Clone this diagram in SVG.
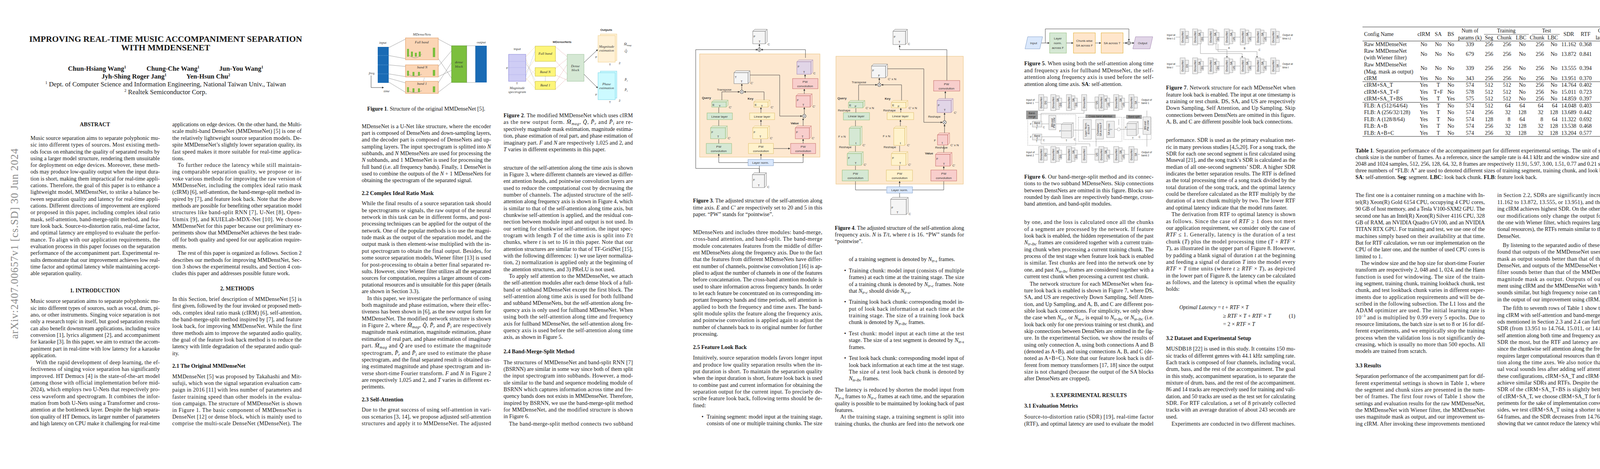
<svg xmlns="http://www.w3.org/2000/svg" width="4240" height="1200" viewBox="0 0 4240 1200">
<style>
text{font-family:"Liberation Serif","Times New Roman",serif;fill:#151515}
.b{font-size:14.2px}
.bd{font-weight:bold}
.ttl{font-size:22px;font-weight:bold}
.au{font-size:17px;font-weight:bold}
.af{font-size:17px}
.it{font-style:italic}
.sb{font-size:10px;font-style:italic}
.f{font-family:"Liberation Sans",Arial,sans-serif;font-size:8px;fill:#333}
.fs{font-family:"Liberation Sans",Arial,sans-serif;font-size:6.5px;fill:#333}
.fi{font-family:"Liberation Serif",serif;font-style:italic;font-size:9px;fill:#333}
.tb{font-size:14px}
.ln{fill:none;stroke:#444;stroke-width:1}
.lg{fill:none;stroke:#888;stroke-width:0.8}
.blk{fill:#eee;stroke:#888;stroke-width:0.7}
.gr{fill:#d5e8d4;stroke:#82b366;stroke-width:0.8}
.ye{fill:#fff2cc;stroke:#d6b656;stroke-width:0.8}
.rd{fill:#f8cecc;stroke:#b85450;stroke-width:0.8}
.pu{fill:#e1d5e7;stroke:#9673a6;stroke-width:0.8}
.wh{fill:#f5f5f5;stroke:#666;stroke-width:0.8}
.bl{fill:#dae8fc;stroke:#6c8ebf;stroke-width:0.8}
.or{fill:#ffe6cc;stroke:#d79b00;stroke-width:0.8}
.pan{fill:#fde8d0;stroke:#e8c07a;stroke-width:1}
.sd{opacity:0.75}
.dsh{fill:none;stroke:#777;stroke-width:0.8;stroke-dasharray:2,2}
.rule{stroke:#222;stroke-width:1.2}
</style>
<defs>
<marker id="ar" viewBox="0 0 6 6" refX="5" refY="3" markerWidth="5" markerHeight="5" orient="auto"><path d="M0,0 L6,3 L0,6 z" fill="#333"/></marker>
<g id="kD"><rect x="0" y="0" width="13" height="41" class="blk"/><text class="fs" text-anchor="middle" transform="translate(8.5,20.5) rotate(-90)">DenseNet</text></g>
<g id="kDS"><use href="#kD"/><rect x="13" y="6" width="9" height="29" class="blk"/><text class="fs" text-anchor="middle" transform="translate(19.5,20.5) rotate(-90)">DS</text></g>
<g id="kSADS"><use href="#kD"/><rect x="13" y="3" width="9" height="35" class="blk"/><rect x="20" y="9" width="8" height="23" class="blk"/><text class="fs" text-anchor="middle" transform="translate(19.5,14) rotate(-90)">SA</text><text class="fs" text-anchor="middle" transform="translate(26.5,25) rotate(-90)">DS</text></g>
<g id="kSAUS"><use href="#kD"/><rect x="13" y="3" width="9" height="35" class="blk"/><rect x="20" y="9" width="8" height="23" class="blk"/><text class="fs" text-anchor="middle" transform="translate(19.5,14) rotate(-90)">SA</text><text class="fs" text-anchor="middle" transform="translate(26.5,25) rotate(-90)">US</text></g>
<g id="kSA"><use href="#kD"/><rect x="13" y="6" width="9" height="29" class="blk"/><text class="fs" text-anchor="middle" transform="translate(19.5,20.5) rotate(-90)">SA</text></g>
<g id="kUS"><rect x="0" y="6" width="9" height="29" class="blk"/><text class="fs" text-anchor="middle" transform="translate(6.5,20.5) rotate(-90)">US</text></g>
</defs>
<rect width="4240" height="1200" fill="#fff"/>

<!-- arXiv sidebar -->
<text x="0" y="0" transform="translate(46,867) rotate(-90)" font-size="27" fill="#8a8a8a" style="fill:#8a8a8a" textLength="487" lengthAdjust="spacing">arXiv:2407.00657v1  [cs.SD]  30 Jun 2024</text>

<!-- PAGE 1 -->
<g id="title">
<text class="ttl" x="424" y="107" text-anchor="middle">IMPROVING REAL-TIME MUSIC ACCOMPANIMENT SEPARATION</text>
<text class="ttl" x="424" y="129" text-anchor="middle">WITH MMDENSENET</text>
<text class="au" x="174" y="181">Chun-Hsiang Wang<tspan font-size="10" dy="-6">1</tspan></text>
<text class="au" x="375" y="181">Chung-Che Wang<tspan font-size="10" dy="-6">1</tspan></text>
<text class="au" x="561" y="181">Jun-You Wang<tspan font-size="10" dy="-6">1</tspan></text>
<text class="au" x="260" y="201">Jyh-Shing Roger Jang<tspan font-size="10" dy="-6">1</tspan></text>
<text class="au" x="477" y="201">Yen-Hsun Chu<tspan font-size="10" dy="-6">2</tspan></text>
<text class="af" x="424" y="221" text-anchor="middle"><tspan font-size="10" dy="-6">1</tspan><tspan dy="6"> Dept. of Computer Science and Information Engineering, National Taiwan Univ., Taiwan</tspan></text>
<text class="af" x="424" y="241" text-anchor="middle"><tspan font-size="10" dy="-6">2</tspan><tspan dy="6"> Realtek Semiconductor Corp.</tspan></text>
</g>

<g id="p1c1" class="b">
<text class="b bd" x="243" y="323" text-anchor="middle">ABSTRACT</text>
<text class="b" x="78" y="358" textLength="331" lengthAdjust="spacing">Music source separation aims to separate polyphonic mu-</text>
<text class="b" x="78" y="375" textLength="331" lengthAdjust="spacing">sic into different types of sources.  Most existing meth-</text>
<text class="b" x="78" y="393" textLength="331" lengthAdjust="spacing">ods focus on enhancing the quality of separated results by</text>
<text class="b" x="78" y="410" textLength="331" lengthAdjust="spacing">using a larger model structure, rendering them unsuitable</text>
<text class="b" x="78" y="427" textLength="331" lengthAdjust="spacing">for deployment on edge devices.  Moreover, these meth-</text>
<text class="b" x="78" y="444" textLength="331" lengthAdjust="spacing">ods may produce low-quality output when the input dura-</text>
<text class="b" x="78" y="462" textLength="331" lengthAdjust="spacing">tion is short, making them impractical for real-time appli-</text>
<text class="b" x="78" y="479" textLength="331" lengthAdjust="spacing">cations.  Therefore, the goal of this paper is to enhance a</text>
<text class="b" x="78" y="496" textLength="331" lengthAdjust="spacing">lightweight model, MMDenstNet, to strike a balance be-</text>
<text class="b" x="78" y="514" textLength="331" lengthAdjust="spacing">tween separation quality and latency for real-time appli-</text>
<text class="b" x="78" y="531" textLength="331" lengthAdjust="spacing">cations. Different directions of improvement are explored</text>
<text class="b" x="78" y="548" textLength="331" lengthAdjust="spacing">or proposed in this paper, including complex ideal ratio</text>
<text class="b" x="78" y="566" textLength="331" lengthAdjust="spacing">mask, self-attention, band-merge-split method, and fea-</text>
<text class="b" x="78" y="583" textLength="331" lengthAdjust="spacing">ture look back. Source-to-distortion ratio, real-time factor,</text>
<text class="b" x="78" y="600" textLength="331" lengthAdjust="spacing">and optimal latency are employed to evaluate the perfor-</text>
<text class="b" x="78" y="618" textLength="331" lengthAdjust="spacing">mance.  To align with our application requirements, the</text>
<text class="b" x="78" y="635" textLength="331" lengthAdjust="spacing">evaluation process in this paper focuses on the separation</text>
<text class="b" x="78" y="652" textLength="331" lengthAdjust="spacing">performance of the accompaniment part. Experimental re-</text>
<text class="b" x="78" y="670" textLength="331" lengthAdjust="spacing">sults demonstrate that our improvement achieves low real-</text>
<text class="b" x="78" y="687" textLength="331" lengthAdjust="spacing">time factor and optimal latency while maintaining accept-</text>
<text class="b" x="78" y="704">able separation quality.</text>
<text class="b bd" x="243" y="748" text-anchor="middle">1.  INTRODUCTION</text>
<text class="b" x="78" y="775" textLength="331" lengthAdjust="spacing">Music source separation aims to separate polyphonic mu-</text>
<text class="b" x="78" y="793" textLength="331" lengthAdjust="spacing">sic into different types of sources, such as vocal, drum, pi-</text>
<text class="b" x="78" y="810" textLength="331" lengthAdjust="spacing">ano, or other instruments.  Singing voice separation is not</text>
<text class="b" x="78" y="827" textLength="331" lengthAdjust="spacing">only a research topic in itself, but good separation results</text>
<text class="b" x="78" y="845" textLength="331" lengthAdjust="spacing">can also benefit downstream applications, including voice</text>
<text class="b" x="78" y="862" textLength="331" lengthAdjust="spacing">conversion [1], lyrics alignment [2], and accompaniment</text>
<text class="b" x="78" y="879" textLength="331" lengthAdjust="spacing">for karaoke [3]. In this paper, we aim to extract the accom-</text>
<text class="b" x="78" y="897" textLength="331" lengthAdjust="spacing">paniment part in real-time with low latency for a karaoke</text>
<text class="b" x="78" y="914">application.</text>
<text class="b" x="92" y="932" textLength="317" lengthAdjust="spacing">With the rapid development of deep learning, the ef-</text>
<text class="b" x="78" y="949" textLength="331" lengthAdjust="spacing">fectiveness of singing voice separation has significantly</text>
<text class="b" x="78" y="967" textLength="331" lengthAdjust="spacing">improved.  HT Demucs [4] is the state-of-the-art model</text>
<text class="b" x="78" y="984" textLength="331" lengthAdjust="spacing">(among those with official implementation before mid-</text>
<text class="b" x="78" y="1001" textLength="331" lengthAdjust="spacing">2024), which employs two U-Nets that respectively pro-</text>
<text class="b" x="78" y="1019" textLength="331" lengthAdjust="spacing">cess waveform and spectrogram.  It combines the infor-</text>
<text class="b" x="78" y="1036" textLength="331" lengthAdjust="spacing">mation from both U-Nets using a Transformer and cross-</text>
<text class="b" x="78" y="1053" textLength="331" lengthAdjust="spacing">attention at the bottleneck layer. Despite the high separa-</text>
<text class="b" x="78" y="1071" textLength="331" lengthAdjust="spacing">tion quality of HT Demucs, its larger number of parameters</text>
<text class="b" x="78" y="1088" textLength="331" lengthAdjust="spacing">and high latency on CPU make it challenging for real-time</text>
</g>

<g id="p1c2">
<text class="b" x="441" y="323" textLength="331" lengthAdjust="spacing">applications on edge devices. On the other hand, the Multi-</text>
<text class="b" x="441" y="340" textLength="331" lengthAdjust="spacing">scale multi-band DenseNet (MMDenseNet) [5] is one of</text>
<text class="b" x="441" y="358" textLength="331" lengthAdjust="spacing">the relatively lightweight source separation models.  De-</text>
<text class="b" x="441" y="375" textLength="331" lengthAdjust="spacing">spite MMDenseNet’s slightly lower separation quality, its</text>
<text class="b" x="441" y="393" textLength="331" lengthAdjust="spacing">fast speed makes it more suitable for real-time applica-</text>
<text class="b" x="441" y="410">tions.</text>
<text class="b" x="455" y="427" textLength="317" lengthAdjust="spacing">To further reduce the latency while still maintain-</text>
<text class="b" x="441" y="444" textLength="331" lengthAdjust="spacing">ing comparable separation quality, we propose or in-</text>
<text class="b" x="441" y="462" textLength="331" lengthAdjust="spacing">voke various methods for improving the raw version of</text>
<text class="b" x="441" y="479" textLength="331" lengthAdjust="spacing">MMDenseNet, including the complex ideal ratio mask</text>
<text class="b" x="441" y="496" textLength="331" lengthAdjust="spacing">(cIRM) [6], self-attention, the band-merge-split method in-</text>
<text class="b" x="441" y="514" textLength="331" lengthAdjust="spacing">spired by [7], and feature look back.  Note that the above</text>
<text class="b" x="441" y="531" textLength="331" lengthAdjust="spacing">methods are possible for benefiting other separation model</text>
<text class="b" x="441" y="548" textLength="331" lengthAdjust="spacing">structures like band-split RNN [7], U-Net [8], Open-</text>
<text class="b" x="441" y="566" textLength="331" lengthAdjust="spacing">Unmix [9], and KUIELab-MDX-Net [10].  We choose</text>
<text class="b" x="441" y="583" textLength="331" lengthAdjust="spacing">MMDenseNet for this paper because our preliminary ex-</text>
<text class="b" x="441" y="600" textLength="331" lengthAdjust="spacing">periments show that MMDenseNet achieves the best trade-</text>
<text class="b" x="441" y="618" textLength="331" lengthAdjust="spacing">off for both quality and speed for our application require-</text>
<text class="b" x="441" y="635">ments.</text>
<text class="b" x="455" y="652" textLength="317" lengthAdjust="spacing">The rest of this paper is organized as follows. Section 2</text>
<text class="b" x="441" y="670" textLength="331" lengthAdjust="spacing">describes our methods for improving MMDenstNet, Sec-</text>
<text class="b" x="441" y="687" textLength="331" lengthAdjust="spacing">tion 3 shows the experimental results, and Section 4 con-</text>
<text class="b" x="441" y="704">cludes this paper and addresses possible future work.</text>
<text class="b bd" x="607" y="743" text-anchor="middle">2.  METHODS</text>
<text class="b" x="441" y="770" textLength="331" lengthAdjust="spacing">In this Section, brief description of MMDenseNet [5] is</text>
<text class="b" x="441" y="787" textLength="331" lengthAdjust="spacing">first given, followed by the four invoked or proposed meth-</text>
<text class="b" x="441" y="805" textLength="331" lengthAdjust="spacing">ods, complex ideal ratio mask (cIRM) [6], self-attention,</text>
<text class="b" x="441" y="822" textLength="331" lengthAdjust="spacing">the band-merge-split method inspired by [7], and feature</text>
<text class="b" x="441" y="839" textLength="331" lengthAdjust="spacing">look back, for improving MMDenseNet.  While the first</text>
<text class="b" x="441" y="857" textLength="331" lengthAdjust="spacing">three methods aim to improve the separated audio quality,</text>
<text class="b" x="441" y="874" textLength="331" lengthAdjust="spacing">the goal of the feature look back method is to reduce the</text>
<text class="b" x="441" y="891" textLength="331" lengthAdjust="spacing">latency with little degradation of the separated audio qual-</text>
<text class="b" x="441" y="909">ity.</text>
<text class="b bd" x="441" y="941">2.1  The Original MMDenseNet</text>
<text class="b" x="441" y="968" textLength="331" lengthAdjust="spacing">MMDenseNet [5] was proposed by Takahashi and Mit-</text>
<text class="b" x="441" y="985" textLength="331" lengthAdjust="spacing">sufuji, which won the signal separation evaluation cam-</text>
<text class="b" x="441" y="1002" textLength="331" lengthAdjust="spacing">paign in 2016 [11] with less number of parameters and</text>
<text class="b" x="441" y="1020" textLength="331" lengthAdjust="spacing">faster training speed than other models in the evalua-</text>
<text class="b" x="441" y="1037" textLength="331" lengthAdjust="spacing">tion campaign.  The structure of MMDenseNet is shown</text>
<text class="b" x="441" y="1054" textLength="331" lengthAdjust="spacing">in Figure 1.   The basic component of MMDenseNet is</text>
<text class="b" x="441" y="1071" textLength="331" lengthAdjust="spacing">DenseNet [12] or dense block, which is mainly used to</text>
<text class="b" x="441" y="1088" textLength="331" lengthAdjust="spacing">comprise the multi-scale DenseNet (MDenseNet).   The</text>
</g>

<!-- PAGE 2 : Figure 1 -->
<g id="fig1">
<text class="fi" x="980" y="112" text-anchor="middle">input</text>
<rect x="967" y="120" width="28" height="92" fill="#1a6bb5"/>
<path d="M967,142H995M967,166H995M967,189H995" stroke="#9cc7ef" stroke-dasharray="2,2" stroke-width="0.8"/>
<path d="M950,224V193M950,224H982" class="ln" marker-end="url(#ar)"/>
<text class="fi" x="944" y="190">freq.</text>
<text class="fi" x="982" y="236">time</text>
<text class="fi" x="1080" y="91" text-anchor="middle">MDenseNets</text>
<path d="M995,122L1038,100M995,142L1038,150M995,166L1038,170M995,189L1038,196M995,200L1038,212M995,210L1038,236" class="lg" stroke="#e8a0a0"/>
<rect x="1038" y="97" width="84" height="56" fill="#fbd5b5" stroke="#e0955a"/>
<rect x="1038" y="166" width="84" height="31" fill="#fbd5b5" stroke="#e0955a"/>
<rect x="1038" y="208" width="84" height="31" fill="#fbd5b5" stroke="#e0955a"/>
<text class="fi" x="1062" y="111">Full band</text>
<text class="fi" x="1068" y="175">band N</text>
<text class="fi" x="1068" y="217">band 1</text>
<text class="fi" x="1080" y="206">⋮</text>
<g fill="#7cbf3e"><rect x="1042" y="125" width="5" height="20"/><rect x="1052" y="132" width="5" height="13"/><rect x="1062" y="135" width="5" height="10"/><rect x="1072" y="132" width="5" height="13"/><rect x="1108" y="122" width="6" height="24"/>
<rect x="1042" y="181" width="5" height="13"/><rect x="1056" y="184" width="5" height="10"/><rect x="1070" y="184" width="5" height="10"/><rect x="1108" y="179" width="6" height="15"/>
<rect x="1042" y="223" width="5" height="13"/><rect x="1056" y="226" width="5" height="10"/><rect x="1070" y="226" width="5" height="10"/><rect x="1108" y="221" width="6" height="15"/></g>
<path d="M1044,138Q1062,158 1080,138M1044,190Q1062,200 1080,190M1044,232Q1062,242 1080,232" class="lg"/>
<path d="M1122,100L1156,118M1122,150L1156,200M1122,170L1156,130M1122,196L1156,180M1122,212L1156,160M1122,236L1156,210" class="lg" stroke="#c9a0c0"/>
<rect x="1156" y="117" width="39" height="94" fill="#7cbf3e" stroke="#5a9a2a"/>
<text class="fi" x="1175" y="162" text-anchor="middle">dense</text>
<text class="fi" x="1175" y="173" text-anchor="middle">block</text>
<rect x="1195" y="117" width="22" height="94" fill="#fff" stroke="#555" stroke-width="0.5"/>
<rect x="1217" y="117" width="29" height="94" fill="#1a6bb5"/>
<text class="fi" x="1232" y="111" text-anchor="middle">output</text>
<text class="b" x="1091" y="283" text-anchor="middle"><tspan font-weight="bold">Figure 1</tspan>. Structure of the original MMDenseNet [5].</text>
</g>

<g id="p2c1">
<text class="b" x="926" y="328" textLength="331" lengthAdjust="spacing">MDenseNet is a U-Net like structure, where the encoder</text>
<text class="b" x="926" y="345" textLength="331" lengthAdjust="spacing">part is composed of DenseNets and down-sampling layers,</text>
<text class="b" x="926" y="362" textLength="331" lengthAdjust="spacing">and the decoder part is composed of DenseNets and up-</text>
<text class="b" x="926" y="380" textLength="331" lengthAdjust="spacing">sampling layers. The input spectrogram is splitted into <tspan class="it">N</tspan></text>
<text class="b" x="926" y="397" textLength="331" lengthAdjust="spacing">subbands, and <tspan class="it">N</tspan> MDenseNets are used for processing the</text>
<text class="b" x="926" y="414" textLength="331" lengthAdjust="spacing"><tspan class="it">N</tspan> subbands, and 1 MDenseNet is used for processing the</text>
<text class="b" x="926" y="432" textLength="331" lengthAdjust="spacing">full band (i.e. all frequency bands). Finally, 1 DenseNet is</text>
<text class="b" x="926" y="449" textLength="331" lengthAdjust="spacing">used to combine the outputs of the <tspan class="it">N</tspan> + 1 MDenseNets for</text>
<text class="b" x="926" y="466">obtaining the spectrogram of the separated signal.</text>
<text class="b bd" x="926" y="499">2.2  Complex Ideal Ratio Mask</text>
<text class="b" x="926" y="525" textLength="331" lengthAdjust="spacing">While the final results of a source separation task should</text>
<text class="b" x="926" y="543" textLength="331" lengthAdjust="spacing">be spectrograms or signals, the raw output of the neural</text>
<text class="b" x="926" y="560" textLength="331" lengthAdjust="spacing">network in this task can be in different forms, and post-</text>
<text class="b" x="926" y="577" textLength="331" lengthAdjust="spacing">processing techniques can be applied for the output of the</text>
<text class="b" x="926" y="595" textLength="331" lengthAdjust="spacing">network. One of the popular methods is to use the magni-</text>
<text class="b" x="926" y="612" textLength="331" lengthAdjust="spacing">tude mask as the output of the separation model, and the</text>
<text class="b" x="926" y="629" textLength="331" lengthAdjust="spacing">output mask is then element-wise multiplied with the in-</text>
<text class="b" x="926" y="647" textLength="331" lengthAdjust="spacing">put spectrogram to obtain the final output.  Besides, for</text>
<text class="b" x="926" y="664" textLength="331" lengthAdjust="spacing">some source separation models, Wiener filter [13] is used</text>
<text class="b" x="926" y="682" textLength="331" lengthAdjust="spacing">for post-processing to obtain a better final separated re-</text>
<text class="b" x="926" y="699" textLength="331" lengthAdjust="spacing">sults. However, since Wiener filter utilizes all the separated</text>
<text class="b" x="926" y="716" textLength="331" lengthAdjust="spacing">sources for computation, requires a larger amount of com-</text>
<text class="b" x="926" y="733" textLength="331" lengthAdjust="spacing">putational resources and is unsuitable for this paper (details</text>
<text class="b" x="926" y="750">are shown in Section 3.3).</text>
<text class="b" x="940" y="768" textLength="317" lengthAdjust="spacing">In this paper, we investigate the performance of using</text>
<text class="b" x="926" y="785" textLength="331" lengthAdjust="spacing">both magnitude and phase estimation, where their effec-</text>
<text class="b" x="926" y="802" textLength="331" lengthAdjust="spacing">tiveness has been shown in [6], as the new output form for</text>
<text class="b" x="926" y="820" textLength="331" lengthAdjust="spacing">MMDenseNet.  The modified network structure is shown</text>
<text class="b" x="926" y="837" textLength="331" lengthAdjust="spacing">in Figure 2, where <tspan class="it">M̂</tspan><tspan class="sb" dy="3">mag</tspan><tspan dy="-3">, </tspan><tspan class="it">Q̂</tspan>, <tspan class="it">P̂</tspan><tspan class="sb" dy="3">r</tspan><tspan dy="-3"> and </tspan><tspan class="it">P̂</tspan><tspan class="sb" dy="3">i</tspan><tspan dy="-3"> are respectively</tspan></text>
<text class="b" x="926" y="854" textLength="331" lengthAdjust="spacing">magnitude mask estimation, magnitude estimation, phase</text>
<text class="b" x="926" y="872" textLength="331" lengthAdjust="spacing">estimation of real part, and phase estimation of imaginary</text>
<text class="b" x="926" y="889" textLength="331" lengthAdjust="spacing">part.  <tspan class="it">M̂</tspan><tspan class="sb" dy="3">mag</tspan><tspan dy="-3"> and </tspan><tspan class="it">Q̂</tspan> are used to estimate the magnitude</text>
<text class="b" x="926" y="908" textLength="331" lengthAdjust="spacing">spectrogram, <tspan class="it">P̂</tspan><tspan class="sb" dy="3">r</tspan><tspan dy="-3"> and </tspan><tspan class="it">P̂</tspan><tspan class="sb" dy="3">i</tspan><tspan dy="-3"> are used to estimate the phase</tspan></text>
<text class="b" x="926" y="925" textLength="331" lengthAdjust="spacing">spectrogram, and the final separated result is obtained us-</text>
<text class="b" x="926" y="942" textLength="331" lengthAdjust="spacing">ing estimated magnitude and phase spectrogram and in-</text>
<text class="b" x="926" y="960" textLength="331" lengthAdjust="spacing">verse short-time Fourier transform.  <tspan class="it">F</tspan> and <tspan class="it">N</tspan> in Figure 2</text>
<text class="b" x="926" y="977" textLength="331" lengthAdjust="spacing">are respectively 1,025 and 2, and <tspan class="it">T</tspan> varies in different ex-</text>
<text class="b" x="926" y="994">periments.</text>
<text class="b bd" x="926" y="1027">2.3  Self-Attention</text>
<text class="b" x="926" y="1053" textLength="331" lengthAdjust="spacing">Due to the great success of using self-attention in vari-</text>
<text class="b" x="926" y="1071" textLength="331" lengthAdjust="spacing">ous scenarios [3, 14], we propose adjusted self-attention</text>
<text class="b" x="926" y="1088" textLength="331" lengthAdjust="spacing">structures and apply it to MMDenseNet.  The adjusted</text>
</g>

<!-- Figure 2 -->
<g id="fig2">
<text class="f" x="1552" y="79" text-anchor="middle" font-weight="bold">Outputs</text>
<text class="f" x="1439" y="110" text-anchor="middle" font-weight="bold" font-size="7">MDenseNets</text>
<text class="f" x="1324" y="128" text-anchor="middle">Input</text>
<rect x="1302" y="139" width="44" height="69" fill="#cfcdf5" stroke="#8a86d8"/>
<path d="M1302,157H1346M1302,173H1346M1302,191H1346" stroke="#8a86d8" stroke-dasharray="1.5,1.5" stroke-width="0.6"/>
<text class="f" x="1296" y="177">F</text>
<text class="f" x="1321" y="216">T</text>
<text class="fi" x="1324" y="228" text-anchor="middle" font-size="7">Magnitude</text>
<text class="fi" x="1324" y="238" text-anchor="middle" font-size="7">spectrogram</text>
<path d="M1346,145L1370,120M1346,165L1370,190M1346,185L1370,150M1346,200L1370,225M1346,150L1370,215M1346,205L1370,178" fill="none" stroke-dasharray="2,2" stroke-width="0.7" stroke="#d9a441"/>
<path d="M1346,160L1370,205M1346,195L1370,130" fill="none" stroke-dasharray="2,2" stroke-width="0.7" stroke="#5b7fd0"/>
<rect x="1370" y="118" width="52" height="39" fill="#fdf57a" stroke="#c8c040"/>
<rect x="1370" y="173" width="52" height="22" fill="#fdf57a" stroke="#c8c040"/>
<rect x="1370" y="208" width="52" height="21" fill="#fdf57a" stroke="#c8c040"/>
<path d="M1396,195V208" stroke="#666" stroke-dasharray="1.5,1.5" stroke-width="0.7"/>
<text class="fi" x="1396" y="140" text-anchor="middle" font-size="8">Full band</text>
<text class="fi" x="1396" y="187" text-anchor="middle" font-size="8">Band N</text>
<text class="fi" x="1396" y="221" text-anchor="middle" font-size="8">Band 1</text>
<path d="M1422,120L1452,145M1422,155L1452,190M1422,175L1452,150M1422,192L1452,205M1422,212L1452,165M1422,228L1452,200" fill="none" stroke-dasharray="2,2" stroke-width="0.7" stroke="#c85a5a"/>
<rect x="1452" y="139" width="43" height="69" fill="#d5e8d4" stroke="#9fc39d"/>
<text class="fi" x="1473" y="172" text-anchor="middle" font-size="8">Dense</text>
<text class="fi" x="1473" y="182" text-anchor="middle" font-size="8">block</text>
<path d="M1495,160L1530,127" class="ln" marker-end="url(#ar)"/>
<path d="M1495,190L1530,225" class="ln" marker-end="url(#ar)"/>
<rect x="1537" y="87" width="42" height="68" fill="#fff1d6" stroke="#f0cf8c"/>
<rect x="1531" y="91" width="44" height="68" fill="#fff1d6" stroke="#f0cf8c"/>
<text class="fi" x="1553" y="122" text-anchor="middle" font-size="7">Magnitude</text>
<text class="fi" x="1553" y="132" text-anchor="middle" font-size="7">estimation</text>
<text class="f" x="1524" y="149">F</text><text class="f" x="1559" y="168">T</text><text class="f" x="1584" y="164">2</text>
<text class="fi" x="1597" y="116" font-size="10">M̂<tspan font-size="7" dy="2">mag</tspan></text>
<text class="fi" x="1599" y="134" font-size="10">Q̂</text>
<rect x="1537" y="182" width="42" height="69" fill="#ccfaff" stroke="#7ad6e8"/>
<rect x="1531" y="186" width="44" height="69" fill="#ccfaff" stroke="#7ad6e8"/>
<text class="fi" x="1553" y="218" text-anchor="middle" font-size="7">Phase</text>
<text class="fi" x="1553" y="228" text-anchor="middle" font-size="7">estimation</text>
<text class="f" x="1524" y="245">F</text><text class="f" x="1559" y="264">T</text><text class="f" x="1584" y="260">2</text>
<text class="fi" x="1599" y="207" font-size="10">P̂<tspan font-size="7" dy="2">r</tspan></text>
<text class="fi" x="1599" y="233" font-size="10">P̂<tspan font-size="7" dy="2">i</tspan></text>
</g>

<g id="p2c2">
<text class="b" x="1289" y="300" textLength="331" lengthAdjust="spacing"><tspan font-weight="bold">Figure 2</tspan>.  The modified MMDenseNet which uses cIRM</text>
<text class="b" x="1289" y="317" textLength="331" lengthAdjust="spacing">as the new output form.  <tspan class="it">M̂</tspan><tspan class="sb" dy="3">mag</tspan><tspan dy="-3">, </tspan><tspan class="it">Q̂</tspan>, <tspan class="it">P̂</tspan><tspan class="sb" dy="3">r</tspan><tspan dy="-3"> and </tspan><tspan class="it">P̂</tspan><tspan class="sb" dy="3">i</tspan><tspan dy="-3"> are re-</tspan></text>
<text class="b" x="1289" y="335" textLength="331" lengthAdjust="spacing">spectively magnitude mask estimation, magnitude estima-</text>
<text class="b" x="1289" y="352" textLength="331" lengthAdjust="spacing">tion, phase estimation of real part, and phase estimation of</text>
<text class="b" x="1289" y="370" textLength="331" lengthAdjust="spacing">imaginary part. <tspan class="it">F</tspan> and <tspan class="it">N</tspan> are respectively 1,025 and 2, and</text>
<text class="b" x="1289" y="387"><tspan class="it">T</tspan> varies in different experiments in this paper.</text>
<text class="b" x="1289" y="434" textLength="331" lengthAdjust="spacing">structure of the self-attention along the time axis is shown</text>
<text class="b" x="1289" y="451" textLength="331" lengthAdjust="spacing">in Figure 3, where different channels are viewed as differ-</text>
<text class="b" x="1289" y="468" textLength="331" lengthAdjust="spacing">ent attention heads, and pointwise convolution layers are</text>
<text class="b" x="1289" y="486" textLength="331" lengthAdjust="spacing">used to reduce the computational cost by decreasing the</text>
<text class="b" x="1289" y="503" textLength="331" lengthAdjust="spacing">number of channels.  The adjusted structure of the self-</text>
<text class="b" x="1289" y="520" textLength="331" lengthAdjust="spacing">attention along frequency axis is shown in Figure 4, which</text>
<text class="b" x="1289" y="538" textLength="331" lengthAdjust="spacing">is similar to that of the self-attention along time axis, but</text>
<text class="b" x="1289" y="555" textLength="331" lengthAdjust="spacing">chunkwise self-attention is applied, and the residual con-</text>
<text class="b" x="1289" y="572" textLength="331" lengthAdjust="spacing">nection between module input and output is not used.  In</text>
<text class="b" x="1289" y="590" textLength="331" lengthAdjust="spacing">our setting for chunkwise self-attention, the input spec-</text>
<text class="b" x="1289" y="607" textLength="331" lengthAdjust="spacing">trogram with length <tspan class="it">T</tspan> of the time axis is split into <tspan class="it">T/t</tspan></text>
<text class="b" x="1289" y="624" textLength="331" lengthAdjust="spacing">chunks, where <tspan class="it">t</tspan> is set to 16 in this paper.  Note that our</text>
<text class="b" x="1289" y="642" textLength="331" lengthAdjust="spacing">attention structures are similar to that of TF-GridNet [15],</text>
<text class="b" x="1289" y="659" textLength="331" lengthAdjust="spacing">with the following differences: 1) we use layer normaliza-</text>
<text class="b" x="1289" y="676" textLength="331" lengthAdjust="spacing">tion, 2) normalization is applied only at the beginning of</text>
<text class="b" x="1289" y="694">the attention structures, and 3) PReLU is not used.</text>
<text class="b" x="1303" y="711" textLength="317" lengthAdjust="spacing">To apply self attention to the MMDenseNet, we attach</text>
<text class="b" x="1289" y="728" textLength="331" lengthAdjust="spacing">the self-attention modules after each dense block of a full-</text>
<text class="b" x="1289" y="746" textLength="331" lengthAdjust="spacing">band or subband MDenseNet except the first block.  The</text>
<text class="b" x="1289" y="763" textLength="331" lengthAdjust="spacing">self-attention along time axis is used for both fullband</text>
<text class="b" x="1289" y="780" textLength="331" lengthAdjust="spacing">and subband MDenseNets, but the self-attention along fre-</text>
<text class="b" x="1289" y="798" textLength="331" lengthAdjust="spacing">quency axis is only used for fullband MDenseNet.  When</text>
<text class="b" x="1289" y="815" textLength="331" lengthAdjust="spacing">using both the self-attention along time and frequency</text>
<text class="b" x="1289" y="833" textLength="331" lengthAdjust="spacing">axis for fullband MDenseNet, the self-attention along fre-</text>
<text class="b" x="1289" y="850" textLength="331" lengthAdjust="spacing">quency axis is used before the self-attention along time</text>
<text class="b" x="1289" y="867">axis, as shown in Figure 5.</text>
<text class="b bd" x="1289" y="904">2.4  Band-Merge-Split Method</text>
<text class="b" x="1289" y="932" textLength="331" lengthAdjust="spacing">The structures of MMDenseNet and band-split RNN [7]</text>
<text class="b" x="1289" y="949" textLength="331" lengthAdjust="spacing">(BSRNN) are similar in some way since both of them split</text>
<text class="b" x="1289" y="966" textLength="331" lengthAdjust="spacing">the input spectrogram into subbands.  However, a mod-</text>
<text class="b" x="1289" y="984" textLength="331" lengthAdjust="spacing">ule similar to the band and sequence modeling module of</text>
<text class="b" x="1289" y="1001" textLength="331" lengthAdjust="spacing">BSRNN which captures information across time and fre-</text>
<text class="b" x="1289" y="1018" textLength="331" lengthAdjust="spacing">quency bands does not exists in MMDenseNet. Therefore,</text>
<text class="b" x="1289" y="1036" textLength="331" lengthAdjust="spacing">inspired by BSRNN, we use the band-merge-split method</text>
<text class="b" x="1289" y="1053" textLength="331" lengthAdjust="spacing">for MMDenseNet, and the modified structure is shown</text>
<text class="b" x="1289" y="1070">in Figure 6.</text>
<text class="b" x="1303" y="1089" textLength="317" lengthAdjust="spacing">The band-merge-split method connects two subband</text>
</g>

<!-- PAGE 3 : Figure 3 -->
<g id="fig3">
<rect x="1791" y="138" width="308" height="264" class="pan"/>
<path d="M1944,431V441" class="ln"/>
<path d="M1944,431H1781V127H1939" class="ln" marker-end="url(#ar)"/>
<path d="M2062,148V127H1949" class="ln" marker-end="url(#ar)"/>
<circle cx="1944" cy="127" r="4.5" fill="#fff" stroke="#333"/><path d="M1939.5,127H1948.5M1944,122.5V131.5" stroke="#333" stroke-width="0.8"/>
<path d="M1944,122V113" class="ln" marker-end="url(#ar)"/>
<g id="f3out"><polygon points="1927,80 1932,75 1964,75 1959,80" class="wh"/><polygon points="1959,80 1964,75 1964,107 1959,112" class="wh"/><rect x="1927" y="80" width="32" height="32" class="wh"/><text class="f" x="1929" y="96">F</text><text class="f" x="1942" y="109">T</text><text class="f" x="1965" y="116">C</text></g>
<g id="f3in"><polygon points="1926,447 1931,442 1962,442 1957,447" class="wh"/><polygon points="1957,447 1962,442 1962,475 1957,480" class="wh"/><rect x="1926" y="447" width="31" height="33" class="wh"/><text class="f" x="1928" y="463">F</text><text class="f" x="1940" y="477">T</text><text class="f" x="1964" y="481">C</text></g>
<path d="M1944,442V424" class="ln"/>
<path d="M1915,416H1840V394" class="ln" marker-end="url(#ar)"/>
<path d="M1980,416H2056V394" class="ln" marker-end="url(#ar)"/>
<path d="M1948,408V394" class="ln" marker-end="url(#ar)"/>
<g id="f3ln"><rect x="1915" y="408" width="65" height="16" class="bl"/><text class="f" x="1947" y="419" text-anchor="middle">Layer norm.</text></g>
<g id="f3pwq"><rect x="1808" y="367" width="65" height="26" class="gr"/><text class="f" x="1840" y="378" text-anchor="middle">PW</text><text class="f" x="1840" y="389" text-anchor="middle">convolution</text></g>
<g id="f3pwk"><rect x="1916" y="367" width="64" height="26" class="ye"/><text class="f" x="1948" y="378" text-anchor="middle">PW</text><text class="f" x="1948" y="389" text-anchor="middle">convolution</text></g>
<g id="f3pwv"><rect x="2024" y="367" width="64" height="26" class="rd"/><text class="f" x="2056" y="378" text-anchor="middle">PW</text><text class="f" x="2056" y="389" text-anchor="middle">convolution</text></g>
<path d="M1980,380H2022" class="ln" marker-end="url(#ar)"/>
<path d="M1840,367V356M1948,367V356M2056,367V356" class="ln" marker-end="url(#ar)"/>
<g id="f3cq"><polygon points="1819,327 1824,322 1862,322 1857,327" class="gr sd"/><polygon points="1857,327 1862,322 1862,350 1857,355" class="gr sd"/><rect x="1819" y="327" width="38" height="28" class="gr"/><text class="f" x="1821" y="341">F</text><text class="f" x="1836" y="352">T</text><text class="f" x="1863" y="356">C'</text></g>
<g id="f3ck"><polygon points="1927,327 1932,322 1970,322 1965,327" class="ye sd"/><polygon points="1965,327 1970,322 1970,350 1965,355" class="ye sd"/><rect x="1927" y="327" width="38" height="28" class="ye"/><text class="f" x="1929" y="341">F</text><text class="f" x="1944" y="352">T</text><text class="f" x="1971" y="356">C'</text></g>
<g id="f3cv"><polygon points="2036,327 2041,322 2077,322 2072,327" class="rd sd"/><polygon points="2072,327 2077,322 2077,350 2072,355" class="rd sd"/><rect x="2036" y="327" width="36" height="28" class="rd"/><text class="f" x="2038" y="341">F</text><text class="f" x="2052" y="352">T</text><text class="f" x="2078" y="356">C'</text></g>
<text class="f" x="2024" y="318" font-weight="bold">Value</text>
<path d="M1840,322V307M1948,322V307" class="ln" marker-end="url(#ar)"/>
<g id="f3llq"><rect x="1810" y="289" width="65" height="17" class="gr"/><text class="f" x="1842" y="301" text-anchor="middle">Linear layer</text></g>
<g id="f3llk"><rect x="1919" y="289" width="64" height="17" class="ye"/><text class="f" x="1951" y="301" text-anchor="middle">Linear layer</text></g>
<path d="M1840,289V275M1948,289V275" class="ln" marker-end="url(#ar)"/>
<g id="f3q"><polygon points="1822,261 1827,256 1864,256 1859,261" class="gr sd"/><polygon points="1859,261 1864,256 1864,269 1859,274" class="gr sd"/><rect x="1822" y="261" width="37" height="13" class="gr"/><text class="f" x="1824" y="271">E</text><text class="f" x="1840" y="274">T</text><text class="f" x="1866" y="277">C'</text></g>
<g id="f3k"><polygon points="1930,261 1935,256 1971,256 1966,261" class="ye sd"/><polygon points="1966,261 1971,256 1971,269 1966,274" class="ye sd"/><rect x="1930" y="261" width="36" height="13" class="ye"/><text class="f" x="1932" y="271">E</text><text class="f" x="1948" y="274">T</text><text class="f" x="1973" y="277">C'</text></g>
<text class="f" x="1797" y="253" font-weight="bold">Query</text>
<text class="f" x="1914" y="255" font-weight="bold">Key</text>
<path d="M1848,256V235H1893" class="ln" marker-end="url(#ar)"/>
<path d="M1956,256V235H1905" class="ln" marker-end="url(#ar)"/>
<text class="f" x="1854" y="232" text-anchor="middle">Transpose</text>
<circle cx="1899" cy="235" r="4.5" fill="#fff" stroke="#333"/><path d="M1896,232L1902,238M1902,232L1896,238" stroke="#333" stroke-width="0.8"/>
<path d="M1899,230V215" class="ln" marker-end="url(#ar)"/>
<g id="f3tt"><polygon points="1879,186 1884,181 1920,181 1915,186" class="wh"/><polygon points="1915,186 1920,181 1920,209 1915,214" class="wh"/><rect x="1879" y="186" width="36" height="28" class="wh"/><text class="f" x="1881" y="200">T</text><text class="f" x="1896" y="211">T</text><text class="f" x="1921" y="215">C'</text></g>
<path d="M1920,192H1996V297H2053" class="ln" marker-end="url(#ar)"/>
<circle cx="2059" cy="297" r="4.5" fill="#fff" stroke="#333"/><path d="M2056,294L2062,300M2062,294L2056,300" stroke="#333" stroke-width="0.8"/>
<path d="M2056,322V303" class="ln" marker-end="url(#ar)"/>
<path d="M2059,292V275" class="ln" marker-end="url(#ar)"/>
<g id="f3cr"><polygon points="2038,245 2043,240 2079,240 2074,245" class="rd sd"/><polygon points="2074,245 2079,240 2079,269 2074,274" class="rd sd"/><rect x="2038" y="245" width="36" height="29" class="rd"/><text class="f" x="2040" y="259">F</text><text class="f" x="2054" y="271">T</text><text class="f" x="2080" y="275">C'</text></g>
<path d="M2059,240V228" class="ln" marker-end="url(#ar)"/>
<g id="f3pwo"><rect x="2029" y="201" width="65" height="26" class="rd"/><text class="f" x="2061" y="212" text-anchor="middle">PW</text><text class="f" x="2061" y="223" text-anchor="middle">convolution</text></g>
<path d="M2061,201V191" class="ln" marker-end="url(#ar)"/>
<g id="f3p"><polygon points="2040,158 2045,153 2081,153 2076,158" class="pu sd"/><polygon points="2076,158 2081,153 2081,185 2076,190" class="pu sd"/><rect x="2040" y="158" width="36" height="32" class="pu"/><text class="f" x="2042" y="173">F</text><text class="f" x="2056" y="187">T</text><text class="f" x="2082" y="190">C</text></g>
</g>

<g id="p3c1">
<text class="b" x="1774" y="518" textLength="331" lengthAdjust="spacing"><tspan font-weight="bold">Figure 3</tspan>. The adjusted structure of the self-attention along</text>
<text class="b" x="1774" y="536" textLength="331" lengthAdjust="spacing">time axis. <tspan class="it">E</tspan> and <tspan class="it">C′</tspan> are respectively set to 20 and 5 in this</text>
<text class="b" x="1774" y="553">paper. “PW” stands for “pointwise”.</text>
<text class="b" x="1774" y="599" textLength="331" lengthAdjust="spacing">MDenseNets and includes three modules:  band-merge,</text>
<text class="b" x="1774" y="616" textLength="331" lengthAdjust="spacing">cross-band attention, and band-split.   The band-merge</text>
<text class="b" x="1774" y="634" textLength="331" lengthAdjust="spacing">module concatenates features from the middle of differ-</text>
<text class="b" x="1774" y="651" textLength="331" lengthAdjust="spacing">ent MDenseNets along the frequency axis. Due to the fact</text>
<text class="b" x="1774" y="668" textLength="331" lengthAdjust="spacing">that the features from different MDenseNets have differ-</text>
<text class="b" x="1774" y="686" textLength="331" lengthAdjust="spacing">ent number of channels, pointwise convolution [16] is ap-</text>
<text class="b" x="1774" y="703" textLength="331" lengthAdjust="spacing">plied to adjust the number of channels in one of the features</text>
<text class="b" x="1774" y="720" textLength="331" lengthAdjust="spacing">before concatenation.  The cross-band attention module is</text>
<text class="b" x="1774" y="738" textLength="331" lengthAdjust="spacing">used to share information across frequency bands. In order</text>
<text class="b" x="1774" y="755" textLength="331" lengthAdjust="spacing">to let each feature be concentrated on its corresponding im-</text>
<text class="b" x="1774" y="772" textLength="331" lengthAdjust="spacing">portant frequency bands and time periods, self attention is</text>
<text class="b" x="1774" y="790" textLength="331" lengthAdjust="spacing">applied to both the frequency and time axes.  The band-</text>
<text class="b" x="1774" y="807" textLength="331" lengthAdjust="spacing">split module splits the feature along the frequency axis,</text>
<text class="b" x="1774" y="824" textLength="331" lengthAdjust="spacing">and pointwise convolution is applied again to adjust the</text>
<text class="b" x="1774" y="842" textLength="331" lengthAdjust="spacing">number of channels back to its original number for further</text>
<text class="b" x="1774" y="859">processing.</text>
<text class="b bd" x="1774" y="893">2.5  Feature Look Back</text>
<text class="b" x="1774" y="920" textLength="331" lengthAdjust="spacing">Intuitively, source separation models favors longer input</text>
<text class="b" x="1774" y="938" textLength="331" lengthAdjust="spacing">and produce low quality separation results when the in-</text>
<text class="b" x="1774" y="955" textLength="331" lengthAdjust="spacing">put duration is short.  To maintain the separation quality</text>
<text class="b" x="1774" y="972" textLength="331" lengthAdjust="spacing">when the input duration is short, feature look back is used</text>
<text class="b" x="1774" y="990" textLength="331" lengthAdjust="spacing">to combine past and current information for obtaining the</text>
<text class="b" x="1774" y="1007" textLength="331" lengthAdjust="spacing">separation output for the current input.  To precisely de-</text>
<text class="b" x="1774" y="1024" textLength="331" lengthAdjust="spacing">scribe feature look back, following terms should be de-</text>
<text class="b" x="1774" y="1042">fined:</text>
<text class="b" x="1796" y="1071">•</text>
<text class="b" x="1809" y="1071" textLength="296" lengthAdjust="spacing">Training segment: model input at the training stage,</text>
<text class="b" x="1809" y="1088" textLength="296" lengthAdjust="spacing">consists of one or multiple training chunks. The size</text>
</g>

<!-- Figure 4 -->
<g id="fig4">
<rect x="2140" y="144" width="326" height="327" class="pan"/>
<path d="M2424,206V127H2303V116" class="ln" marker-end="url(#ar)"/>
<g id="f4out"><polygon points="2286,80 2291,75 2323,75 2318,80" class="wh"/><polygon points="2318,80 2323,75 2323,109 2318,114" class="wh"/><rect x="2286" y="80" width="32" height="34" class="wh"/><text class="f" x="2288" y="97">F</text><text class="f" x="2300" y="110">T</text><text class="f" x="2324" y="115">C</text></g>
<g id="f4ff"><polygon points="2231,169 2236,164 2272,164 2267,169" class="wh"/><polygon points="2267,169 2272,164 2272,194 2267,199" class="wh"/><rect x="2231" y="169" width="36" height="30" class="wh"/><text class="f" x="2233" y="183">F</text><text class="f" x="2248" y="196">F</text><text class="f" x="2273" y="205">C' x N</text></g>
<path d="M2251,212V200" class="ln" marker-end="url(#ar)"/>
<circle cx="2251" cy="217" r="4.5" fill="#fff" stroke="#333"/><path d="M2248,214L2254,220M2254,214L2248,220" stroke="#333" stroke-width="0.8"/>
<text class="f" x="2199" y="213" text-anchor="middle">Transpose</text>
<path d="M2198,257V217H2245" class="ln" marker-end="url(#ar)"/>
<path d="M2308,257V217H2257" class="ln" marker-end="url(#ar)"/>
<g id="f4q"><polygon points="2172,262 2177,257 2214,257 2209,262" class="gr sd"/><polygon points="2209,262 2214,257 2214,271 2209,276" class="gr sd"/><rect x="2172" y="262" width="37" height="14" class="gr"/><text class="f" x="2174" y="272">E</text><text class="f" x="2188" y="275">F</text><text class="f" x="2216" y="279">C' x N</text></g>
<g id="f4k"><polygon points="2282,262 2287,257 2324,257 2319,262" class="ye sd"/><polygon points="2319,262 2324,257 2324,271 2319,276" class="ye sd"/><rect x="2282" y="262" width="37" height="14" class="ye"/><text class="f" x="2284" y="272">E</text><text class="f" x="2298" y="275">F</text><text class="f" x="2326" y="279">C' x N</text></g>
<text class="f" x="2144" y="254" font-weight="bold">Query</text>
<text class="f" x="2265" y="255" font-weight="bold">Key</text>
<text class="f" x="2145" y="285">Reshape</text>
<text class="f" x="2261" y="285">Reshape</text>
<path d="M2191,288V277M2306,288V277" class="ln" marker-end="url(#ar)"/>
<g id="f4llq"><rect x="2159" y="288" width="67" height="19" class="gr"/><text class="f" x="2192" y="300" text-anchor="middle">Linear layer</text></g>
<g id="f4llk"><rect x="2271" y="288" width="68" height="18" class="ye"/><text class="f" x="2305" y="300" text-anchor="middle">Linear layer</text></g>
<path d="M2190,323V308M2305,323V307" class="ln" marker-end="url(#ar)"/>
<g id="f4tq"><polygon points="2174,328 2179,323 2207,323 2202,328" class="gr sd"/><polygon points="2202,328 2207,323 2207,367 2202,372" class="gr sd"/><rect x="2174" y="328" width="28" height="44" class="gr"/><text class="f" x="2190" y="369">t</text><text class="f" x="2208" y="374">C'</text></g>
<g id="f4tk"><polygon points="2288,328 2293,323 2321,323 2316,328" class="ye sd"/><polygon points="2316,328 2321,323 2321,367 2316,372" class="ye sd"/><rect x="2288" y="328" width="28" height="44" class="ye"/><text class="f" x="2304" y="369">t</text><text class="f" x="2322" y="374">C'</text></g>
<text class="f" x="2146" y="352">F x N</text>
<text class="f" x="2260" y="351">F x N</text>
<text class="f" x="2148" y="379">Reshape</text>
<text class="f" x="2262" y="379">Reshape</text>
<path d="M2190,388V373M2303,388V373" class="ln"/>
<g id="f4lq"><polygon points="2169,393 2174,388 2210,388 2205,393" class="gr sd"/><polygon points="2205,393 2210,388 2210,418 2205,423" class="gr sd"/><rect x="2169" y="393" width="36" height="30" class="gr"/><text class="f" x="2171" y="407">F</text><text class="f" x="2188" y="420">T</text><text class="f" x="2211" y="424">C'</text></g>
<g id="f4lk"><polygon points="2282,393 2287,388 2324,388 2319,393" class="ye sd"/><polygon points="2319,393 2324,388 2324,418 2319,423" class="ye sd"/><rect x="2282" y="393" width="37" height="30" class="ye"/><text class="f" x="2284" y="407">F</text><text class="f" x="2302" y="420">T</text><text class="f" x="2325" y="424">C'</text></g>
<g id="f4lv"><polygon points="2395,395 2400,390 2437,390 2432,395" class="rd sd"/><polygon points="2432,395 2437,390 2437,420 2432,425" class="rd sd"/><rect x="2395" y="395" width="37" height="30" class="rd"/><text class="f" x="2397" y="409">F</text><text class="f" x="2414" y="422">T</text><text class="f" x="2438" y="426">C'</text></g>
<text class="f" x="2368" y="395" font-weight="bold">Value</text>
<path d="M2190,435V424M2303,435V424M2416,435V426" class="ln" marker-end="url(#ar)"/>
<g id="f4pwq"><rect x="2156" y="435" width="67" height="28" class="gr"/><text class="f" x="2190" y="447" text-anchor="middle">PW</text><text class="f" x="2190" y="458" text-anchor="middle">convolution</text></g>
<g id="f4pwk"><rect x="2269" y="435" width="67" height="28" class="ye"/><text class="f" x="2303" y="447" text-anchor="middle">PW</text><text class="f" x="2303" y="458" text-anchor="middle">convolution</text></g>
<g id="f4pwv"><rect x="2383" y="435" width="66" height="28" class="rd"/><text class="f" x="2416" y="447" text-anchor="middle">PW</text><text class="f" x="2416" y="458" text-anchor="middle">convolution</text></g>
<path d="M2269,486H2190V464M2336,486H2416V464M2303,478V464" class="ln" marker-end="url(#ar)"/>
<g id="f4ln"><rect x="2270" y="478" width="66" height="16" class="bl"/><text class="f" x="2303" y="489" text-anchor="middle">Layer norm.</text></g>
<path d="M2303,505V494" class="ln"/>
<g id="f4in"><polygon points="2280,510 2285,505 2325,505 2320,510" class="wh"/><polygon points="2320,510 2325,505 2325,544 2320,549" class="wh"/><rect x="2280" y="510" width="40" height="39" class="wh"/><text class="f" x="2282" y="534">F</text><text class="f" x="2295" y="546">T</text><text class="f" x="2326" y="550">C</text></g>
<path d="M2416,390V372" class="ln"/>
<text class="f" x="2394" y="380">Reshape</text>
<g id="f4sr"><polygon points="2400,345 2405,340 2431,340 2426,345" class="rd sd"/><polygon points="2426,345 2431,340 2431,366 2426,371" class="rd sd"/><rect x="2400" y="345" width="26" height="26" class="rd"/><text class="f" x="2391" y="362">F</text><text class="f" x="2411" y="368">t</text><text class="f" x="2433" y="374">C' x N</text></g>
<path d="M2418,340V319" class="ln" marker-end="url(#ar)"/>
<path d="M2272,176H2365V313H2412" class="ln" marker-end="url(#ar)"/>
<circle cx="2418" cy="313" r="4.5" fill="#fff" stroke="#333"/><path d="M2415,310L2421,316M2421,310L2415,316" stroke="#333" stroke-width="0.8"/>
<path d="M2418,308V289" class="ln" marker-end="url(#ar)"/>
<text class="f" x="2376" y="301">Reshape</text>
<g id="f4p"><polygon points="2399,257 2404,252 2440,252 2435,257" class="pu sd"/><polygon points="2435,257 2440,252 2440,283 2435,288" class="pu sd"/><rect x="2399" y="257" width="36" height="31" class="pu"/><text class="f" x="2401" y="272">F</text><text class="f" x="2416" y="284">T</text><text class="f" x="2442" y="291">C'</text></g>
<path d="M2420,252V234" class="ln" marker-end="url(#ar)"/>
<g id="f4pwo"><rect x="2390" y="206" width="67" height="27" class="rd"/><text class="f" x="2423" y="218" text-anchor="middle">PW</text><text class="f" x="2423" y="229" text-anchor="middle">convolution</text></g>
</g>

<g id="p3c2">
<text class="b" x="2137" y="588" textLength="331" lengthAdjust="spacing"><tspan font-weight="bold">Figure 4</tspan>. The adjusted structure of the self-attention along</text>
<text class="b" x="2137" y="605" textLength="331" lengthAdjust="spacing">frequency axis. <tspan class="it">N</tspan> is <tspan class="it">T/t</tspan>, where <tspan class="it">t</tspan> is 16. “PW” stands for</text>
<text class="b" x="2137" y="622">“pointwise”.</text>
<text class="b" x="2173" y="668">of a training segment is denoted by <tspan class="it">N</tspan><tspan class="sb" dy="3">tr-s</tspan><tspan dy="-3"> frames.</tspan></text>
<text class="b" x="2161" y="697">•</text>
<text class="b" x="2173" y="697" textLength="295" lengthAdjust="spacing">Training chunk:  model input (consists of multiple</text>
<text class="b" x="2173" y="714" textLength="295" lengthAdjust="spacing">frames) at each time at the training stage.  The size</text>
<text class="b" x="2173" y="732" textLength="295" lengthAdjust="spacing">of a training chunk is denoted by <tspan class="it">N</tspan><tspan class="sb" dy="3">tr-c</tspan><tspan dy="-3"> frames. Note</tspan></text>
<text class="b" x="2173" y="749">that <tspan class="it">N</tspan><tspan class="sb" dy="3">tr-c</tspan><tspan dy="-3"> should divide </tspan><tspan class="it">N</tspan><tspan class="sb" dy="3">tr-s</tspan><tspan dy="-3">.</tspan></text>
<text class="b" x="2161" y="777">•</text>
<text class="b" x="2173" y="777" textLength="295" lengthAdjust="spacing">Training look back chunk: corresponding model in-</text>
<text class="b" x="2173" y="795" textLength="295" lengthAdjust="spacing">put of look back information at each time at the</text>
<text class="b" x="2173" y="812" textLength="295" lengthAdjust="spacing">training stage.   The size of a training look back</text>
<text class="b" x="2173" y="829">chunk is denoted by <tspan class="it">N</tspan><tspan class="sb" dy="3">tr-lbc</tspan><tspan dy="-3"> frames.</tspan></text>
<text class="b" x="2161" y="858">•</text>
<text class="b" x="2173" y="858" textLength="295" lengthAdjust="spacing">Test chunk:  model input at each time at the test</text>
<text class="b" x="2173" y="875" textLength="295" lengthAdjust="spacing">stage. The size of a test segment is denoted by <tspan class="it">N</tspan><tspan class="sb" dy="3">te-s</tspan></text>
<text class="b" x="2173" y="893">frames.</text>
<text class="b" x="2161" y="921">•</text>
<text class="b" x="2173" y="921" textLength="295" lengthAdjust="spacing">Test look back chunk: corresponding model input of</text>
<text class="b" x="2173" y="939" textLength="295" lengthAdjust="spacing">look back information at each time at the test stage.</text>
<text class="b" x="2173" y="956" textLength="295" lengthAdjust="spacing">The size of a test look back chunk is denoted by</text>
<text class="b" x="2173" y="973"><tspan class="it">N</tspan><tspan class="sb" dy="3">te-lbc</tspan><tspan dy="-3"> frames.</tspan></text>
<text class="b" x="2137" y="1002" textLength="331" lengthAdjust="spacing">The latency is reduced by shorten the model input from</text>
<text class="b" x="2137" y="1019" textLength="331" lengthAdjust="spacing"><tspan class="it">N</tspan><tspan class="sb" dy="3">tr-s</tspan><tspan dy="-3"> frames to </tspan><tspan class="it">N</tspan><tspan class="sb" dy="3">tr-c</tspan><tspan dy="-3"> frames at each time, and the separation</tspan></text>
<text class="b" x="2137" y="1037" textLength="331" lengthAdjust="spacing">quality is possible to be maintained by looking back of past</text>
<text class="b" x="2137" y="1054">features.</text>
<text class="b" x="2151" y="1071" textLength="317" lengthAdjust="spacing">At the training stage, a training segment is split into</text>
<text class="b" x="2137" y="1089" textLength="331" lengthAdjust="spacing">training chunks, the chunks are feed into the network one</text>
</g>

<!-- PAGE 4 : Figure 5 -->
<g id="fig5">
<path d="M2676,110V74H2890V104" class="ln" marker-end="url(#ar)"/>
<polygon points="2631,94 2669,94 2662,125 2624,125" class="bl"/>
<text class="f" x="2646" y="113" text-anchor="middle" font-size="9">Input</text>
<path d="M2666,110H2686" class="ln" marker-end="url(#ar)"/>
<rect x="2687" y="84" width="43" height="52" class="gr"/>
<text class="f" x="2708" y="101" text-anchor="middle" font-size="8.5">Layer</text><text class="f" x="2708" y="113" text-anchor="middle" font-size="8.5">norm.</text><text class="f" x="2708" y="125" text-anchor="middle" font-size="8.5">across F</text>
<path d="M2730,110H2747" class="ln" marker-end="url(#ar)"/>
<rect x="2748" y="84" width="56" height="52" class="or"/>
<text class="f" x="2776" y="107" text-anchor="middle" font-size="8.5">Chunk-wise</text><text class="f" x="2776" y="119" text-anchor="middle" font-size="8.5">SA across F</text>
<path d="M2804,110H2818" class="ln" marker-end="url(#ar)"/>
<rect x="2819" y="84" width="56" height="52" class="or"/>
<text class="f" x="2847" y="113" text-anchor="middle" font-size="8.5">SA across T</text>
<path d="M2875,110H2885" class="ln" marker-end="url(#ar)"/>
<circle cx="2890" cy="110" r="4.5" fill="#fff" stroke="#333"/><path d="M2885.5,110H2894.5M2890,105.5V114.5" stroke="#333" stroke-width="0.8"/>
<path d="M2895,110H2903" class="ln" marker-end="url(#ar)"/>
<polygon points="2907,94 2951,94 2944,125 2900,125" class="pu"/>
<text class="f" x="2925" y="113" text-anchor="middle" font-size="9">Output</text>
</g>

<!-- Figure 6 -->
<g id="fig6">
<text class="fs" x="2627" y="258">Input of</text><text class="fs" x="2627" y="266">band 1</text>
<text class="fs" x="2922" y="258">Output of</text><text class="fs" x="2922" y="266">band 1</text>
<text class="fs" x="2627" y="392">Input of</text><text class="fs" x="2627" y="400">band 2</text>
<text class="fs" x="2922" y="392">Output of</text><text class="fs" x="2922" y="400">band 2</text>
<path d="M2650,262H2918M2650,395H2918" class="lg"/>
<use href="#kDS" x="2659" y="242"/><use href="#kSADS" x="2690" y="242"/><use href="#kSADS" x="2730" y="242"/><use href="#kD" x="2769" y="242"/>
<use href="#kUS" x="2803" y="242"/><use href="#kSAUS" x="2813" y="242"/><use href="#kSAUS" x="2851" y="242"/><use href="#kSA" x="2890" y="242"/>
<use href="#kDS" x="2659" y="375"/><use href="#kSADS" x="2690" y="375"/><use href="#kSADS" x="2730" y="375"/><use href="#kD" x="2769" y="375"/>
<use href="#kUS" x="2803" y="375"/><use href="#kSAUS" x="2813" y="375"/><use href="#kSAUS" x="2851" y="375"/><use href="#kSA" x="2890" y="375"/>
<rect x="2631" y="293" width="123" height="79" class="dsh"/>
<rect x="2761" y="300" width="111" height="62" class="dsh"/>
<rect x="2877" y="300" width="70" height="57" class="dsh"/>
<rect x="2627" y="283" width="30" height="22" fill="#999"/>
<text class="fs" x="2642" y="292" text-anchor="middle" style="fill:#222">Band-</text><text class="fs" x="2642" y="301" text-anchor="middle" style="fill:#222">merge</text>
<rect x="2779" y="293" width="77" height="9" fill="#999"/>
<text class="fs" x="2817" y="300" text-anchor="middle" style="fill:#222">Cross-band attention</text>
<rect x="2883" y="294" width="40" height="10" fill="#999"/>
<text class="fs" x="2903" y="301" text-anchor="middle" style="fill:#222">Band-split</text>
<path d="M2775,283V290H2665V309M2665,358V368H2790V375M2806,283V262M2806,375V350" class="lg"/>
<rect x="2643" y="310" width="24" height="15" class="blk"/><text class="fs" x="2655" y="317" text-anchor="middle" font-size="5">Band</text><text class="fs" x="2655" y="323" text-anchor="middle" font-size="5">1</text>
<rect x="2643" y="343" width="24" height="15" class="blk"/><text class="fs" x="2655" y="350" text-anchor="middle" font-size="5">Band</text><text class="fs" x="2655" y="356" text-anchor="middle" font-size="5">2</text>
<text class="fs" x="2637" y="320">F</text><text class="fs" x="2637" y="353">F</text><text class="fs" x="2652" y="331">T</text><text class="fs" x="2652" y="364">T</text><text class="fs" x="2670" y="328">C</text><text class="fs" x="2670" y="361">C</text>
<rect x="2685" y="295" width="18" height="37" class="blk"/><text class="fs" text-anchor="middle" transform="translate(2696,314) rotate(-90)">BN and</text><text class="fs" text-anchor="middle" transform="translate(2702,314) rotate(-90)"> </text>
<text class="fs" text-anchor="middle" transform="translate(2701,314) rotate(-90)">PW conv</text>
<path d="M2667,317H2685M2703,317H2717M2667,350H2717" class="lg"/>
<rect x="2717" y="318" width="26" height="17" class="blk"/><rect x="2717" y="335" width="26" height="18" class="blk"/><polygon points="2717,318 2722,314 2748,314 2743,318" class="blk"/><polygon points="2743,318 2748,314 2748,349 2743,353" class="blk"/>
<text class="fs" x="2712" y="338">F</text><text class="fs" x="2728" y="362">T</text><text class="fs" x="2749" y="359">C</text>
<path d="M2748,333H2773" class="lg"/>
<rect x="2773" y="306" width="21" height="50" class="blk"/><text class="fs" text-anchor="middle" transform="translate(2782,331) rotate(-90)">Layer Norm.</text><text class="fs" text-anchor="middle" transform="translate(2789,331) rotate(-90)">across F</text>
<rect x="2805" y="306" width="20" height="50" class="blk"/><text class="fs" text-anchor="middle" transform="translate(2813,331) rotate(-90)">Chunkwise</text><text class="fs" text-anchor="middle" transform="translate(2820,331) rotate(-90)">SA across F</text>
<rect x="2833" y="310" width="20" height="42" class="blk"/><text class="fs" text-anchor="middle" transform="translate(2841,331) rotate(-90)">SA across</text><text class="fs" text-anchor="middle" transform="translate(2848,331) rotate(-90)">T</text>
<path d="M2794,331H2805M2825,331H2833M2853,331H2860M2868,331H2885M2864,320V305" class="lg"/>
<circle cx="2864" cy="331" r="4" fill="#fff" stroke="#888" stroke-width="0.7"/>
<rect x="2885" y="316" width="24" height="15" class="blk"/><rect x="2885" y="331" width="24" height="16" class="blk"/><polygon points="2885,316 2890,311 2914,311 2909,316" class="blk"/><polygon points="2909,316 2914,311 2914,342 2909,347" class="blk"/>
<text class="fs" x="2880" y="329">F</text><text class="fs" x="2898" y="356">T</text><text class="fs" x="2915" y="353">C</text>
<rect x="2926" y="299" width="20" height="45" class="blk"/><text class="fs" text-anchor="middle" transform="translate(2934,321) rotate(-90)">BN and</text><text class="fs" text-anchor="middle" transform="translate(2941,321) rotate(-90)">PW conv</text>
<path d="M2914,329H2926M2936,299V283M2936,344V375" class="lg"/>
</g>

<g id="p4c1">
<text class="b" x="2622" y="167" textLength="331" lengthAdjust="spacing"><tspan font-weight="bold">Figure 5</tspan>.  When using both the self-attention along time</text>
<text class="b" x="2622" y="185" textLength="331" lengthAdjust="spacing">and frequency axis for fullband MDenseNet, the self-</text>
<text class="b" x="2622" y="202" textLength="331" lengthAdjust="spacing">attention along frequency axis is used before the self-</text>
<text class="b" x="2622" y="220">attention along time axis. <tspan font-weight="bold">SA</tspan>: self-attention.</text>
<text class="b" x="2622" y="457" textLength="331" lengthAdjust="spacing"><tspan font-weight="bold">Figure 6</tspan>.  Our band-merge-split method and its connec-</text>
<text class="b" x="2622" y="474" textLength="331" lengthAdjust="spacing">tions to the two subband MDenseNets. Skip connections</text>
<text class="b" x="2622" y="492" textLength="331" lengthAdjust="spacing">between DenstNets are omitted in this figure. Blocks sur-</text>
<text class="b" x="2622" y="509" textLength="331" lengthAdjust="spacing">rounded by dash lines are respectively band-merge, cross-</text>
<text class="b" x="2622" y="526">band attention, and band-split modules.</text>
<text class="b" x="2622" y="573" textLength="331" lengthAdjust="spacing">by one, and the loss is calculated once all the chunks</text>
<text class="b" x="2622" y="591" textLength="331" lengthAdjust="spacing">of a segment are processed by the network.  If feature</text>
<text class="b" x="2622" y="608" textLength="331" lengthAdjust="spacing">look back is enabled, the hidden representation of the past</text>
<text class="b" x="2622" y="625" textLength="331" lengthAdjust="spacing"><tspan class="it">N</tspan><tspan class="sb" dy="3">tr-lbc</tspan><tspan dy="-3"> frames are considered together with a current train-</tspan></text>
<text class="b" x="2622" y="643" textLength="331" lengthAdjust="spacing">ing chunk when processing a current training chunk.  The</text>
<text class="b" x="2622" y="660" textLength="331" lengthAdjust="spacing">process of the test stage when feature look back is enabled</text>
<text class="b" x="2622" y="677" textLength="331" lengthAdjust="spacing">is similar.  Test chunks are feed into the network one by</text>
<text class="b" x="2622" y="695" textLength="331" lengthAdjust="spacing">one, and past <tspan class="it">N</tspan><tspan class="sb" dy="3">te-lbc</tspan><tspan dy="-3"> frames are considered together with a</tspan></text>
<text class="b" x="2622" y="712">current test chunk when processing a current test chunk.</text>
<text class="b" x="2636" y="731" textLength="317" lengthAdjust="spacing">The network structure for each MDenseNet when fea-</text>
<text class="b" x="2622" y="748" textLength="331" lengthAdjust="spacing">ture look back is enabled is shown in Figure 7, where DS,</text>
<text class="b" x="2622" y="765" textLength="331" lengthAdjust="spacing">SA, and US are respectively Down Sampling, Self Atten-</text>
<text class="b" x="2622" y="783" textLength="331" lengthAdjust="spacing">tion, and Up Sampling, and A, B, and C are different pos-</text>
<text class="b" x="2622" y="800" textLength="331" lengthAdjust="spacing">sible look back connections. For simplicity, we only show</text>
<text class="b" x="2622" y="817" textLength="331" lengthAdjust="spacing">the case when <tspan class="it">N</tspan><tspan class="sb" dy="3">tr-c</tspan><tspan dy="-3"> or </tspan><tspan class="it">N</tspan><tspan class="sb" dy="3">te-c</tspan><tspan dy="-3"> is equal to </tspan><tspan class="it">N</tspan><tspan class="sb" dy="3">tr-lbc</tspan><tspan dy="-3"> or </tspan><tspan class="it">N</tspan><tspan class="sb" dy="3">te-lbc</tspan><tspan dy="-3"> (i.e.</tspan></text>
<text class="b" x="2622" y="835" textLength="331" lengthAdjust="spacing">look back only for one previous training or test chunk), and</text>
<text class="b" x="2622" y="852" textLength="331" lengthAdjust="spacing">skip connections between DenstNets are omitted in the fig-</text>
<text class="b" x="2622" y="869" textLength="331" lengthAdjust="spacing">ure.  In the experimental Section, we show the results of</text>
<text class="b" x="2622" y="887" textLength="331" lengthAdjust="spacing">using only connection A, using both connections A and B</text>
<text class="b" x="2622" y="904" textLength="331" lengthAdjust="spacing">(denoted as A+B), and using connections A, B, and C (de-</text>
<text class="b" x="2622" y="921" textLength="331" lengthAdjust="spacing">noted as A+B+C). Note that our feature look back is dif-</text>
<text class="b" x="2622" y="939" textLength="331" lengthAdjust="spacing">ferent from memory transformers [17, 18] since the output</text>
<text class="b" x="2622" y="956" textLength="331" lengthAdjust="spacing">size is not changed (because the output of the SA blocks</text>
<text class="b" x="2622" y="973">after DenseNets are cropped).</text>
<text class="b bd" x="2787" y="1016" text-anchor="middle">3.  EXPERIMENTAL RESULTS</text>
<text class="b bd" x="2622" y="1043">3.1  Evaluation Metrics</text>
<text class="b" x="2622" y="1071" textLength="331" lengthAdjust="spacing">Source-to-distortion ratio (SDR) [19], real-time factor</text>
<text class="b" x="2622" y="1089" textLength="331" lengthAdjust="spacing">(RTF), and optimal latency are used to evaluate the model</text>
</g>

<!-- Figure 7 -->
<g id="fig7">
<text class="fs" x="2987" y="92">Input at</text><text class="fs" x="2987" y="101">time <tspan font-style="italic">t-1</tspan></text>
<text class="fs" x="3283" y="92">Output at</text><text class="fs" x="3283" y="101">time <tspan font-style="italic">t-1</tspan></text>
<text class="fs" x="2987" y="166">Input at</text><text class="fs" x="2987" y="175">time <tspan font-style="italic">t</tspan></text>
<text class="fs" x="3283" y="166">Output at</text><text class="fs" x="3283" y="175">time <tspan font-style="italic">t</tspan></text>
<path d="M3010,95H3280M3010,169H3280" class="lg"/>
<use href="#kDS" x="3021" y="74"/><use href="#kSADS" x="3053" y="74"/><use href="#kSADS" x="3093" y="74"/><use href="#kSAUS" x="3134" y="74"/><use href="#kSAUS" x="3175" y="74"/><use href="#kSAUS" x="3214" y="74"/><use href="#kSA" x="3253" y="74"/>
<use href="#kDS" x="3021" y="148"/><use href="#kSADS" x="3053" y="148"/><use href="#kSADS" x="3093" y="148"/><use href="#kSAUS" x="3134" y="148"/><use href="#kSAUS" x="3175" y="148"/><use href="#kSAUS" x="3214" y="148"/><use href="#kSA" x="3253" y="148"/>
<path d="M3113,112V127H3141V147" class="lg" marker-end="url(#ar)"/>
<path d="M3073,112V137H3180V147" class="lg" marker-end="url(#ar)"/>
<path d="M3118,112V132H3218V147" class="lg" marker-end="url(#ar)"/>
<text class="fs" x="3144" y="125">A</text><text class="fs" x="3184" y="126">B</text><text class="fs" x="3222" y="130">C</text>
</g>

<g id="p4c2">
<text class="b" x="2985" y="229" textLength="331" lengthAdjust="spacing"><tspan font-weight="bold">Figure 7</tspan>.  Network structure for each MDenseNet when</text>
<text class="b" x="2985" y="247" textLength="331" lengthAdjust="spacing">feature look back is enabled. The input at one timestamp is</text>
<text class="b" x="2985" y="264" textLength="331" lengthAdjust="spacing">a training or test chunk.  DS, SA, and US are respectively</text>
<text class="b" x="2985" y="281" textLength="331" lengthAdjust="spacing">Down Sampling, Self Attention, and Up Sampling.  Skip</text>
<text class="b" x="2985" y="299" textLength="331" lengthAdjust="spacing">connections between DenstNets are omitted in this figure.</text>
<text class="b" x="2985" y="316">A, B, and C are different possible look back connections.</text>
<text class="b" x="2985" y="363" textLength="331" lengthAdjust="spacing">performance. SDR is used as the primary evaluation met-</text>
<text class="b" x="2985" y="381" textLength="331" lengthAdjust="spacing">ric in many previous studies [4,5,20]. For a song track, the</text>
<text class="b" x="2985" y="398" textLength="331" lengthAdjust="spacing">SDR for each one second segment is first calculated using</text>
<text class="b" x="2985" y="414" textLength="331" lengthAdjust="spacing">Museval [21], and the song track’s SDR is calculated as the</text>
<text class="b" x="2985" y="432" textLength="331" lengthAdjust="spacing">median of all one-second segments’ SDR. A higher SDR</text>
<text class="b" x="2985" y="449" textLength="331" lengthAdjust="spacing">indicates the better separation results. The RTF is defined</text>
<text class="b" x="2985" y="466" textLength="331" lengthAdjust="spacing">as the total processing time of a song track divided by the</text>
<text class="b" x="2985" y="484" textLength="331" lengthAdjust="spacing">total duration of the song track, and the optimal latency</text>
<text class="b" x="2985" y="501" textLength="331" lengthAdjust="spacing">could be therefore calculated as the RTF multiply by the</text>
<text class="b" x="2985" y="518" textLength="331" lengthAdjust="spacing">duration of a test chunk multiply by two. The lower RTF</text>
<text class="b" x="2985" y="536">and optimal latency indicate that the model runs faster.</text>
<text class="b" x="2999" y="553" textLength="317" lengthAdjust="spacing">The derivation from RTF to optimal latency is shown</text>
<text class="b" x="2985" y="571" textLength="331" lengthAdjust="spacing">as follows.  Since the case of <tspan class="it">RTF</tspan> ≥ 1 does not meet</text>
<text class="b" x="2985" y="588" textLength="331" lengthAdjust="spacing">our application requirement, we consider only the case of</text>
<text class="b" x="2985" y="605" textLength="331" lengthAdjust="spacing"><tspan class="it">RTF</tspan> ≤ 1.  Generally, latency is the duration of a test</text>
<text class="b" x="2985" y="623" textLength="331" lengthAdjust="spacing">chunk (<tspan class="it">T</tspan>) plus the model processing time (<tspan class="it">T</tspan> + <tspan class="it">RTF</tspan> ×</text>
<text class="b" x="2985" y="640" textLength="331" lengthAdjust="spacing"><tspan class="it">T</tspan>), as illustrated in the upper part of Figure 8.  However,</text>
<text class="b" x="2985" y="658" textLength="331" lengthAdjust="spacing">by padding a blank signal of duration <tspan class="it">t</tspan> at the beginning</text>
<text class="b" x="2985" y="675" textLength="331" lengthAdjust="spacing">and feeding a signal of duration <tspan class="it">T</tspan> into the model every</text>
<text class="b" x="2985" y="692" textLength="331" lengthAdjust="spacing"><tspan class="it">RTF</tspan> × <tspan class="it">T</tspan> time units (where <tspan class="it">t</tspan> ≥ <tspan class="it">RTF</tspan> × <tspan class="it">T</tspan>), as depicted</text>
<text class="b" x="2985" y="710" textLength="331" lengthAdjust="spacing">in the lower part of Figure 8, the latency can be calculated</text>
<text class="b" x="2985" y="727" textLength="331" lengthAdjust="spacing">as follows, and the latency is optimal when the equality</text>
<text class="b" x="2985" y="744">holds:</text>
<text class="b" x="3019" y="791"><tspan class="it">Optimal Latency</tspan> = <tspan class="it">t</tspan> + <tspan class="it">RTF</tspan> × <tspan class="it">T</tspan></text>
<text class="b" x="3131" y="813">≥ <tspan class="it">RTF</tspan> × <tspan class="it">T</tspan> + <tspan class="it">RTF</tspan> × <tspan class="it">T</tspan></text>
<text class="b" x="3316" y="813" text-anchor="end">(1)</text>
<text class="b" x="3131" y="834">= 2 × <tspan class="it">RTF</tspan> × <tspan class="it">T</tspan></text>
<text class="b bd" x="2985" y="870">3.2  Dataset and Experimental Setup</text>
<text class="b" x="2985" y="897" textLength="331" lengthAdjust="spacing">MUSDB18 [22] is used in this study. It contains 150 mu-</text>
<text class="b" x="2985" y="915" textLength="331" lengthAdjust="spacing">sic tracks of different genres with 44.1 kHz sampling rate.</text>
<text class="b" x="2985" y="932" textLength="331" lengthAdjust="spacing">Each track is composed of four channels, including vocal,</text>
<text class="b" x="2985" y="949" textLength="331" lengthAdjust="spacing">drum, bass, and the rest of the accompaniment.  The goal</text>
<text class="b" x="2985" y="967" textLength="331" lengthAdjust="spacing">in this study, accompaniment separation, is to separate the</text>
<text class="b" x="2985" y="984" textLength="331" lengthAdjust="spacing">mixture of drum, bass, and the rest of the accompaniment.</text>
<text class="b" x="2985" y="1001" textLength="331" lengthAdjust="spacing">86 and 14 tracks are respectively used for training and vali-</text>
<text class="b" x="2985" y="1019" textLength="331" lengthAdjust="spacing">dation, and 50 tracks are used as the test set for calculating</text>
<text class="b" x="2985" y="1036" textLength="331" lengthAdjust="spacing">SDR.  For RTF calculation, a set of 8 privately collected</text>
<text class="b" x="2985" y="1053" textLength="331" lengthAdjust="spacing">tracks with an average duration of about 243 seconds are</text>
<text class="b" x="2985" y="1071">used.</text>
<text class="b" x="2999" y="1089" textLength="317" lengthAdjust="spacing">Experiments are conducted in two different machines.</text>
</g>

<!-- PAGE 5 : Table 1 -->
<g id="table1" class="tb">
<line x1="3488" y1="69" x2="4147" y2="69" class="rule" stroke-width="1.6"/>
<text class="tb" x="3492" y="92">Config Name</text>
<text class="tb" x="3645" y="92" text-anchor="middle">cIRM</text>
<text class="tb" x="3682" y="92" text-anchor="middle">SA</text>
<text class="tb" x="3714" y="92" text-anchor="middle">BS</text>
<text class="tb" x="3763" y="83" text-anchor="middle">Num of</text>
<text class="tb" x="3763" y="101" text-anchor="middle">params (k)</text>
<text class="tb" x="3856" y="83" text-anchor="middle">Training</text>
<text class="tb" x="3959" y="83" text-anchor="middle">Test</text>
<line x1="3799" y1="88" x2="3914" y2="88" stroke="#222" stroke-width="0.8"/>
<line x1="3921" y1="88" x2="3993" y2="88" stroke="#222" stroke-width="0.8"/>
<text class="tb" x="3812" y="101" text-anchor="middle">Seg</text>
<text class="tb" x="3851" y="101" text-anchor="middle">Chunk</text>
<text class="tb" x="3894" y="101" text-anchor="middle">LBC</text>
<text class="tb" x="3935" y="101" text-anchor="middle">Chunk</text>
<text class="tb" x="3975" y="101" text-anchor="middle">LBC</text>
<text class="tb" x="4016" y="92" text-anchor="middle">SDR</text>
<text class="tb" x="4059" y="92" text-anchor="middle">RTF</text>
<text class="tb" x="4114" y="83" text-anchor="middle">Optimal</text>
<text class="tb" x="4114" y="101" text-anchor="middle">latency (s)</text>
<line x1="3488" y1="105" x2="4147" y2="105" class="rule"/>
<g text-anchor="middle">
<text class="tb" x="3492" y="118" text-anchor="start">Raw MMDenseNet</text>
<text class="tb" x="3645" y="118">No</text><text class="tb" x="3682" y="118">No</text><text class="tb" x="3714" y="118">No</text><text class="tb" x="3763" y="118">339</text><text class="tb" x="3812" y="118">256</text><text class="tb" x="3858" y="118">256</text><text class="tb" x="3897" y="118">No</text><text class="tb" x="3942" y="118">256</text><text class="tb" x="3978" y="118">No</text><text class="tb" x="4016" y="118">11.162</text><text class="tb" x="4059" y="118">0.368</text><text class="tb" x="4114" y="118">4.38</text>
<text class="tb" x="3492" y="135" text-anchor="start">Raw MMDenseNet</text>
<text class="tb" x="3492" y="152" text-anchor="start">(with Wiener filter)</text>
<text class="tb" x="3645" y="143">No</text><text class="tb" x="3682" y="143">No</text><text class="tb" x="3714" y="143">No</text><text class="tb" x="3763" y="143">679</text><text class="tb" x="3812" y="143">256</text><text class="tb" x="3858" y="143">256</text><text class="tb" x="3897" y="143">No</text><text class="tb" x="3942" y="143">256</text><text class="tb" x="3978" y="143">No</text><text class="tb" x="4016" y="143">13.872</text><text class="tb" x="4059" y="143">0.841</text><text class="tb" x="4114" y="143">9.99</text>
<text class="tb" x="3492" y="170" text-anchor="start">Raw MMDenseNet</text>
<text class="tb" x="3492" y="188" text-anchor="start">(Mag. mask as output)</text>
<text class="tb" x="3645" y="179">No</text><text class="tb" x="3682" y="179">No</text><text class="tb" x="3714" y="179">No</text><text class="tb" x="3763" y="179">339</text><text class="tb" x="3812" y="179">256</text><text class="tb" x="3858" y="179">256</text><text class="tb" x="3897" y="179">No</text><text class="tb" x="3942" y="179">256</text><text class="tb" x="3978" y="179">No</text><text class="tb" x="4016" y="179">13.555</text><text class="tb" x="4059" y="179">0.394</text><text class="tb" x="4114" y="179">4.68</text>
<text class="tb" x="3492" y="205" text-anchor="start">cIRM</text>
<text class="tb" x="3645" y="205">Yes</text><text class="tb" x="3682" y="205">No</text><text class="tb" x="3714" y="205">No</text><text class="tb" x="3763" y="205">343</text><text class="tb" x="3812" y="205">256</text><text class="tb" x="3858" y="205">256</text><text class="tb" x="3897" y="205">No</text><text class="tb" x="3942" y="205">256</text><text class="tb" x="3978" y="205">No</text><text class="tb" x="4016" y="205">13.951</text><text class="tb" x="4059" y="205">0.370</text><text class="tb" x="4114" y="205">4.39</text>
<text class="tb" x="3492" y="222" text-anchor="start">cIRM+SA_T</text>
<text class="tb" x="3645" y="222">Yes</text><text class="tb" x="3682" y="222">T</text><text class="tb" x="3714" y="222">No</text><text class="tb" x="3763" y="222">574</text><text class="tb" x="3812" y="222">512</text><text class="tb" x="3858" y="222">512</text><text class="tb" x="3897" y="222">No</text><text class="tb" x="3942" y="222">256</text><text class="tb" x="3978" y="222">No</text><text class="tb" x="4016" y="222">14.764</text><text class="tb" x="4059" y="222">0.402</text><text class="tb" x="4114" y="222">4.77</text>
<text class="tb" x="3492" y="240" text-anchor="start">cIRM+SA_T+F</text>
<text class="tb" x="3645" y="240">Yes</text><text class="tb" x="3682" y="240">T+F</text><text class="tb" x="3714" y="240">No</text><text class="tb" x="3763" y="240">578</text><text class="tb" x="3812" y="240">512</text><text class="tb" x="3858" y="240">512</text><text class="tb" x="3897" y="240">No</text><text class="tb" x="3942" y="240">256</text><text class="tb" x="3978" y="240">No</text><text class="tb" x="4016" y="240">15.011</text><text class="tb" x="4059" y="240">0.723</text><text class="tb" x="4114" y="240">8.59</text>
<text class="tb" x="3492" y="257" text-anchor="start">cIRM+SA_T+BS</text>
<text class="tb" x="3645" y="257">Yes</text><text class="tb" x="3682" y="257">T</text><text class="tb" x="3714" y="257">Yes</text><text class="tb" x="3763" y="257">575</text><text class="tb" x="3812" y="257">512</text><text class="tb" x="3858" y="257">512</text><text class="tb" x="3897" y="257">No</text><text class="tb" x="3942" y="257">256</text><text class="tb" x="3978" y="257">No</text><text class="tb" x="4016" y="257">14.859</text><text class="tb" x="4059" y="257">0.397</text><text class="tb" x="4114" y="257">4.71</text>
<text class="tb" x="3492" y="275" text-anchor="start">FLB: A (512/64/64)</text>
<text class="tb" x="3645" y="275">Yes</text><text class="tb" x="3682" y="275">T</text><text class="tb" x="3714" y="275">No</text><text class="tb" x="3763" y="275">574</text><text class="tb" x="3812" y="275">512</text><text class="tb" x="3860" y="275">64</text><text class="tb" x="3897" y="275">64</text><text class="tb" x="3944" y="275">64</text><text class="tb" x="3980" y="275">64</text><text class="tb" x="4016" y="275">14.048</text><text class="tb" x="4059" y="275">0.403</text><text class="tb" x="4114" y="275">1.19</text>
<text class="tb" x="3492" y="292" text-anchor="start">FLB: A (256/32/128)</text>
<text class="tb" x="3645" y="292">Yes</text><text class="tb" x="3682" y="292">T</text><text class="tb" x="3714" y="292">No</text><text class="tb" x="3763" y="292">574</text><text class="tb" x="3812" y="292">256</text><text class="tb" x="3860" y="292">32</text><text class="tb" x="3897" y="292">128</text><text class="tb" x="3944" y="292">32</text><text class="tb" x="3978" y="292">128</text><text class="tb" x="4016" y="292">13.689</text><text class="tb" x="4059" y="292">0.442</text><text class="tb" x="4114" y="292">0.65</text>
<text class="tb" x="3492" y="310" text-anchor="start">FLB: A (128/8/64)</text>
<text class="tb" x="3645" y="310">Yes</text><text class="tb" x="3682" y="310">T</text><text class="tb" x="3714" y="310">No</text><text class="tb" x="3763" y="310">574</text><text class="tb" x="3812" y="310">128</text><text class="tb" x="3863" y="310">8</text><text class="tb" x="3897" y="310">64</text><text class="tb" x="3947" y="310">8</text><text class="tb" x="3980" y="310">64</text><text class="tb" x="4016" y="310">11.322</text><text class="tb" x="4059" y="310">0.692</text><text class="tb" x="4114" y="310">0.25</text>
<text class="tb" x="3492" y="327" text-anchor="start">FLB: A+B</text>
<text class="tb" x="3645" y="327">Yes</text><text class="tb" x="3682" y="327">T</text><text class="tb" x="3714" y="327">No</text><text class="tb" x="3763" y="327">574</text><text class="tb" x="3812" y="327">256</text><text class="tb" x="3860" y="327">32</text><text class="tb" x="3897" y="327">128</text><text class="tb" x="3944" y="327">32</text><text class="tb" x="3978" y="327">128</text><text class="tb" x="4016" y="327">13.538</text><text class="tb" x="4059" y="327">0.468</text><text class="tb" x="4114" y="327">0.69</text>
<text class="tb" x="3492" y="345" text-anchor="start">FLB: A+B+C</text>
<text class="tb" x="3645" y="345">Yes</text><text class="tb" x="3682" y="345">T</text><text class="tb" x="3714" y="345">No</text><text class="tb" x="3763" y="345">574</text><text class="tb" x="3812" y="345">256</text><text class="tb" x="3860" y="345">32</text><text class="tb" x="3897" y="345">128</text><text class="tb" x="3944" y="345">32</text><text class="tb" x="3978" y="345">128</text><text class="tb" x="4016" y="345">13.204</text><text class="tb" x="4059" y="345">0.577</text><text class="tb" x="4114" y="345">0.85</text>
</g>
<line x1="3488" y1="209" x2="4147" y2="209" class="rule"/>
<line x1="3488" y1="262" x2="4147" y2="262" class="rule"/>
<line x1="3488" y1="349" x2="4147" y2="349" class="rule" stroke-width="1.6"/>
</g>

<g id="p5cap">
<text class="b" x="3470" y="390" textLength="694" lengthAdjust="spacing"><tspan font-weight="bold">Table 1</tspan>.  Separation performance of the accompaniment part for different experimental settings.  The unit of segment and</text>
<text class="b" x="3470" y="407" textLength="694" lengthAdjust="spacing">chunk size is the number of frames.  As a reference, since the sample rate is 44.1 kHz and the window size and hop size are</text>
<text class="b" x="3470" y="424" textLength="694" lengthAdjust="spacing">2048 and 1024 samples, 512, 256, 128, 64, 32, 8 frames are respectively 11.91, 5.97, 3.00, 1.51, 0.77 and 0.21 seconds. The</text>
<text class="b" x="3470" y="441" textLength="694" lengthAdjust="spacing">three numbers of “FLB: A” are used to denoted different sizes of training segment, training chunk, and look back chunk.</text>
<text class="b" x="3470" y="458"><tspan font-weight="bold">SA</tspan>: self-attention. <tspan font-weight="bold">Seg</tspan>: segment. <tspan font-weight="bold">LBC</tspan>: look back chunk. <tspan font-weight="bold">FLB</tspan>: feature look back.</text>
</g>

<g id="p5c1">
<text class="b" x="3470" y="504" textLength="331" lengthAdjust="spacing">The first one is a container running on a machine with In-</text>
<text class="b" x="3470" y="522" textLength="331" lengthAdjust="spacing">tel(R) Xeon(R) Gold 6154 CPU, occupying 4 CPU cores,</text>
<text class="b" x="3470" y="539" textLength="331" lengthAdjust="spacing">90 GB of host memory, and a Tesla V100-SXM2 GPU. The</text>
<text class="b" x="3470" y="557" textLength="331" lengthAdjust="spacing">second one has an Intel(R) Xeon(R) Silver 4116 CPU, 328</text>
<text class="b" x="3470" y="574" textLength="331" lengthAdjust="spacing">GB of RAM, an NVIDIA Quadro GV100, and an NVIDIA</text>
<text class="b" x="3470" y="591" textLength="331" lengthAdjust="spacing">TITAN RTX GPU. For training and test, we use one of the</text>
<text class="b" x="3470" y="609" textLength="331" lengthAdjust="spacing">machines simply based on their availability at that time.</text>
<text class="b" x="3470" y="626" textLength="331" lengthAdjust="spacing">But for RTF calculation, we run our implementation on the</text>
<text class="b" x="3470" y="643" textLength="331" lengthAdjust="spacing">CPU of the later one, and the number of used CPU cores is</text>
<text class="b" x="3470" y="661">limited to 1.</text>
<text class="b" x="3484" y="678" textLength="317" lengthAdjust="spacing">The window size and the hop size for short-time Fourier</text>
<text class="b" x="3470" y="695" textLength="331" lengthAdjust="spacing">transform are respectively 2, 048 and 1, 024, and the Hann</text>
<text class="b" x="3470" y="713" textLength="331" lengthAdjust="spacing">function is used for windowing.   The size of the train-</text>
<text class="b" x="3470" y="730" textLength="331" lengthAdjust="spacing">ing segment, training chunk, training lookback chunk, test</text>
<text class="b" x="3470" y="747" textLength="331" lengthAdjust="spacing">chunk, and test lookback chunk varies in different exper-</text>
<text class="b" x="3470" y="765" textLength="331" lengthAdjust="spacing">iments due to application requirements and will be de-</text>
<text class="b" x="3470" y="782" textLength="331" lengthAdjust="spacing">scribed in the following subsection.  The L1 loss and the</text>
<text class="b" x="3470" y="799" textLength="331" lengthAdjust="spacing">ADAM optimizer are used.   The initial learning rate is</text>
<text class="b" x="3470" y="817" textLength="331" lengthAdjust="spacing">10<tspan font-size="9" dy="-6">−3</tspan><tspan dy="6"> and is multiplied by 0.99 every 5 epochs.  Due to</tspan></text>
<text class="b" x="3470" y="834" textLength="331" lengthAdjust="spacing">resource limitations, the batch size is set to 8 or 16 for dif-</text>
<text class="b" x="3470" y="851" textLength="331" lengthAdjust="spacing">ferent experiments, and we empirically stop the training</text>
<text class="b" x="3470" y="869" textLength="331" lengthAdjust="spacing">process when the validation loss is not significantly de-</text>
<text class="b" x="3470" y="886" textLength="331" lengthAdjust="spacing">creasing, which is usually no more than 500 epochs.  All</text>
<text class="b" x="3470" y="903">models are trained from scratch.</text>
<text class="b bd" x="3470" y="940">3.3  Results</text>
<text class="b" x="3470" y="967" textLength="331" lengthAdjust="spacing">Separation performance of the accompaniment part for dif-</text>
<text class="b" x="3470" y="985" textLength="331" lengthAdjust="spacing">ferent experimental settings is shown in Table 1, where</text>
<text class="b" x="3470" y="1002" textLength="331" lengthAdjust="spacing">the segment and chunk sizes are presented in the num-</text>
<text class="b" x="3470" y="1019" textLength="331" lengthAdjust="spacing">ber of frames.  The first four rows of Table 1 show the</text>
<text class="b" x="3470" y="1037" textLength="331" lengthAdjust="spacing">settings and evaluation results for the raw MMDenseNet,</text>
<text class="b" x="3470" y="1054" textLength="331" lengthAdjust="spacing">the MMDenseNet with Wiener filter, the MMDenseNet</text>
<text class="b" x="3470" y="1071" textLength="331" lengthAdjust="spacing">uses magnitude mask as output, and our improvement us-</text>
<text class="b" x="3470" y="1089" textLength="331" lengthAdjust="spacing">ing cIRM. After invoking these improvements mentioned</text>
</g>

<g id="p5c2">
<text class="b" x="3833" y="504" textLength="331" lengthAdjust="spacing">in Section 2.2, SDRs are significantly increased (from</text>
<text class="b" x="3833" y="522" textLength="331" lengthAdjust="spacing">11.162 to 13.872, 13.555, or 13.951), and the model us-</text>
<text class="b" x="3833" y="539" textLength="331" lengthAdjust="spacing">ing cIRM achieves highest SDR. On the other hand, since</text>
<text class="b" x="3833" y="557" textLength="331" lengthAdjust="spacing">our modifications only change the output form (except</text>
<text class="b" x="3833" y="574" textLength="331" lengthAdjust="spacing">the one with Wiener filter, which requires larger computa-</text>
<text class="b" x="3833" y="591" textLength="331" lengthAdjust="spacing">tional resources), the RTFs remain similar to the raw MM-</text>
<text class="b" x="3833" y="609">DenseNet.</text>
<text class="b" x="3847" y="632" textLength="317" lengthAdjust="spacing">By listening to the separated audio of these models, we</text>
<text class="b" x="3833" y="649" textLength="331" lengthAdjust="spacing">found that outputs of the MMDenseNet uses magnitude</text>
<text class="b" x="3833" y="667" textLength="331" lengthAdjust="spacing">mask as output sounds better than that of the raw MM-</text>
<text class="b" x="3833" y="684" textLength="331" lengthAdjust="spacing">DenseNet, and outputs of the MMDenseNet with Wiener</text>
<text class="b" x="3833" y="701" textLength="331" lengthAdjust="spacing">filter sounds better than that of the MMDenseNet uses</text>
<text class="b" x="3833" y="719" textLength="331" lengthAdjust="spacing">magnitude mask as output.   Outputs of our improve-</text>
<text class="b" x="3833" y="736" textLength="331" lengthAdjust="spacing">ment using cIRM and the MMDenseNet with Wiener filter</text>
<text class="b" x="3833" y="753" textLength="331" lengthAdjust="spacing">sounds similar, but high frequency noise can be perceived</text>
<text class="b" x="3833" y="771">in the output of our improvement using cIRM.</text>
<text class="b" x="3847" y="793" textLength="317" lengthAdjust="spacing">The fifth to seventh rows of Table 1 show that both us-</text>
<text class="b" x="3833" y="811" textLength="331" lengthAdjust="spacing">ing cIRM with self-attention and band-merge-split meth-</text>
<text class="b" x="3833" y="828" textLength="331" lengthAdjust="spacing">ods mentioned in Section 2.3 and 2.4 can further improve</text>
<text class="b" x="3833" y="845" textLength="331" lengthAdjust="spacing">SDR (from 13.951 to 14.764, 15.011, or 14.859).  Using</text>
<text class="b" x="3833" y="863" textLength="331" lengthAdjust="spacing">self attention along both time and frequency axes improves</text>
<text class="b" x="3833" y="880" textLength="331" lengthAdjust="spacing">SDR the most, but the RTF and latency are also higher,</text>
<text class="b" x="3833" y="897" textLength="331" lengthAdjust="spacing">since the chunkwise self attention along the frequency axes</text>
<text class="b" x="3833" y="915" textLength="331" lengthAdjust="spacing">requires larger computational resources than the self atten-</text>
<text class="b" x="3833" y="932" textLength="331" lengthAdjust="spacing">tion along the time axes.  We also notice that the resid-</text>
<text class="b" x="3833" y="949" textLength="331" lengthAdjust="spacing">ual vocal sounds less after adding self attention.  Two of</text>
<text class="b" x="3833" y="967" textLength="331" lengthAdjust="spacing">these configurations, cIRM+SA_T and cIRM+SA_T+BS,</text>
<text class="b" x="3833" y="984" textLength="331" lengthAdjust="spacing">achieve similar SDRs and RTFs. Despite the fact that the</text>
<text class="b" x="3833" y="1001" textLength="331" lengthAdjust="spacing">SDR of the cIRM+SA_T+BS is slightly better than that</text>
<text class="b" x="3833" y="1019" textLength="331" lengthAdjust="spacing">of cIRM+SA_T, we choose cIRM+SA_T for following ex-</text>
<text class="b" x="3833" y="1036" textLength="331" lengthAdjust="spacing">periments for the sake of implementation convenience. Be-</text>
<text class="b" x="3833" y="1053" textLength="331" lengthAdjust="spacing">sides, we test cIRM+SA_T using a shorter test chunk of</text>
<text class="b" x="3833" y="1071" textLength="331" lengthAdjust="spacing">64 frames, and the SDR decreases from 14.764 to 12.776,</text>
<text class="b" x="3833" y="1088" textLength="331" lengthAdjust="spacing">showing that we cannot reduce the latency while still main-</text>
</g>
</svg>
